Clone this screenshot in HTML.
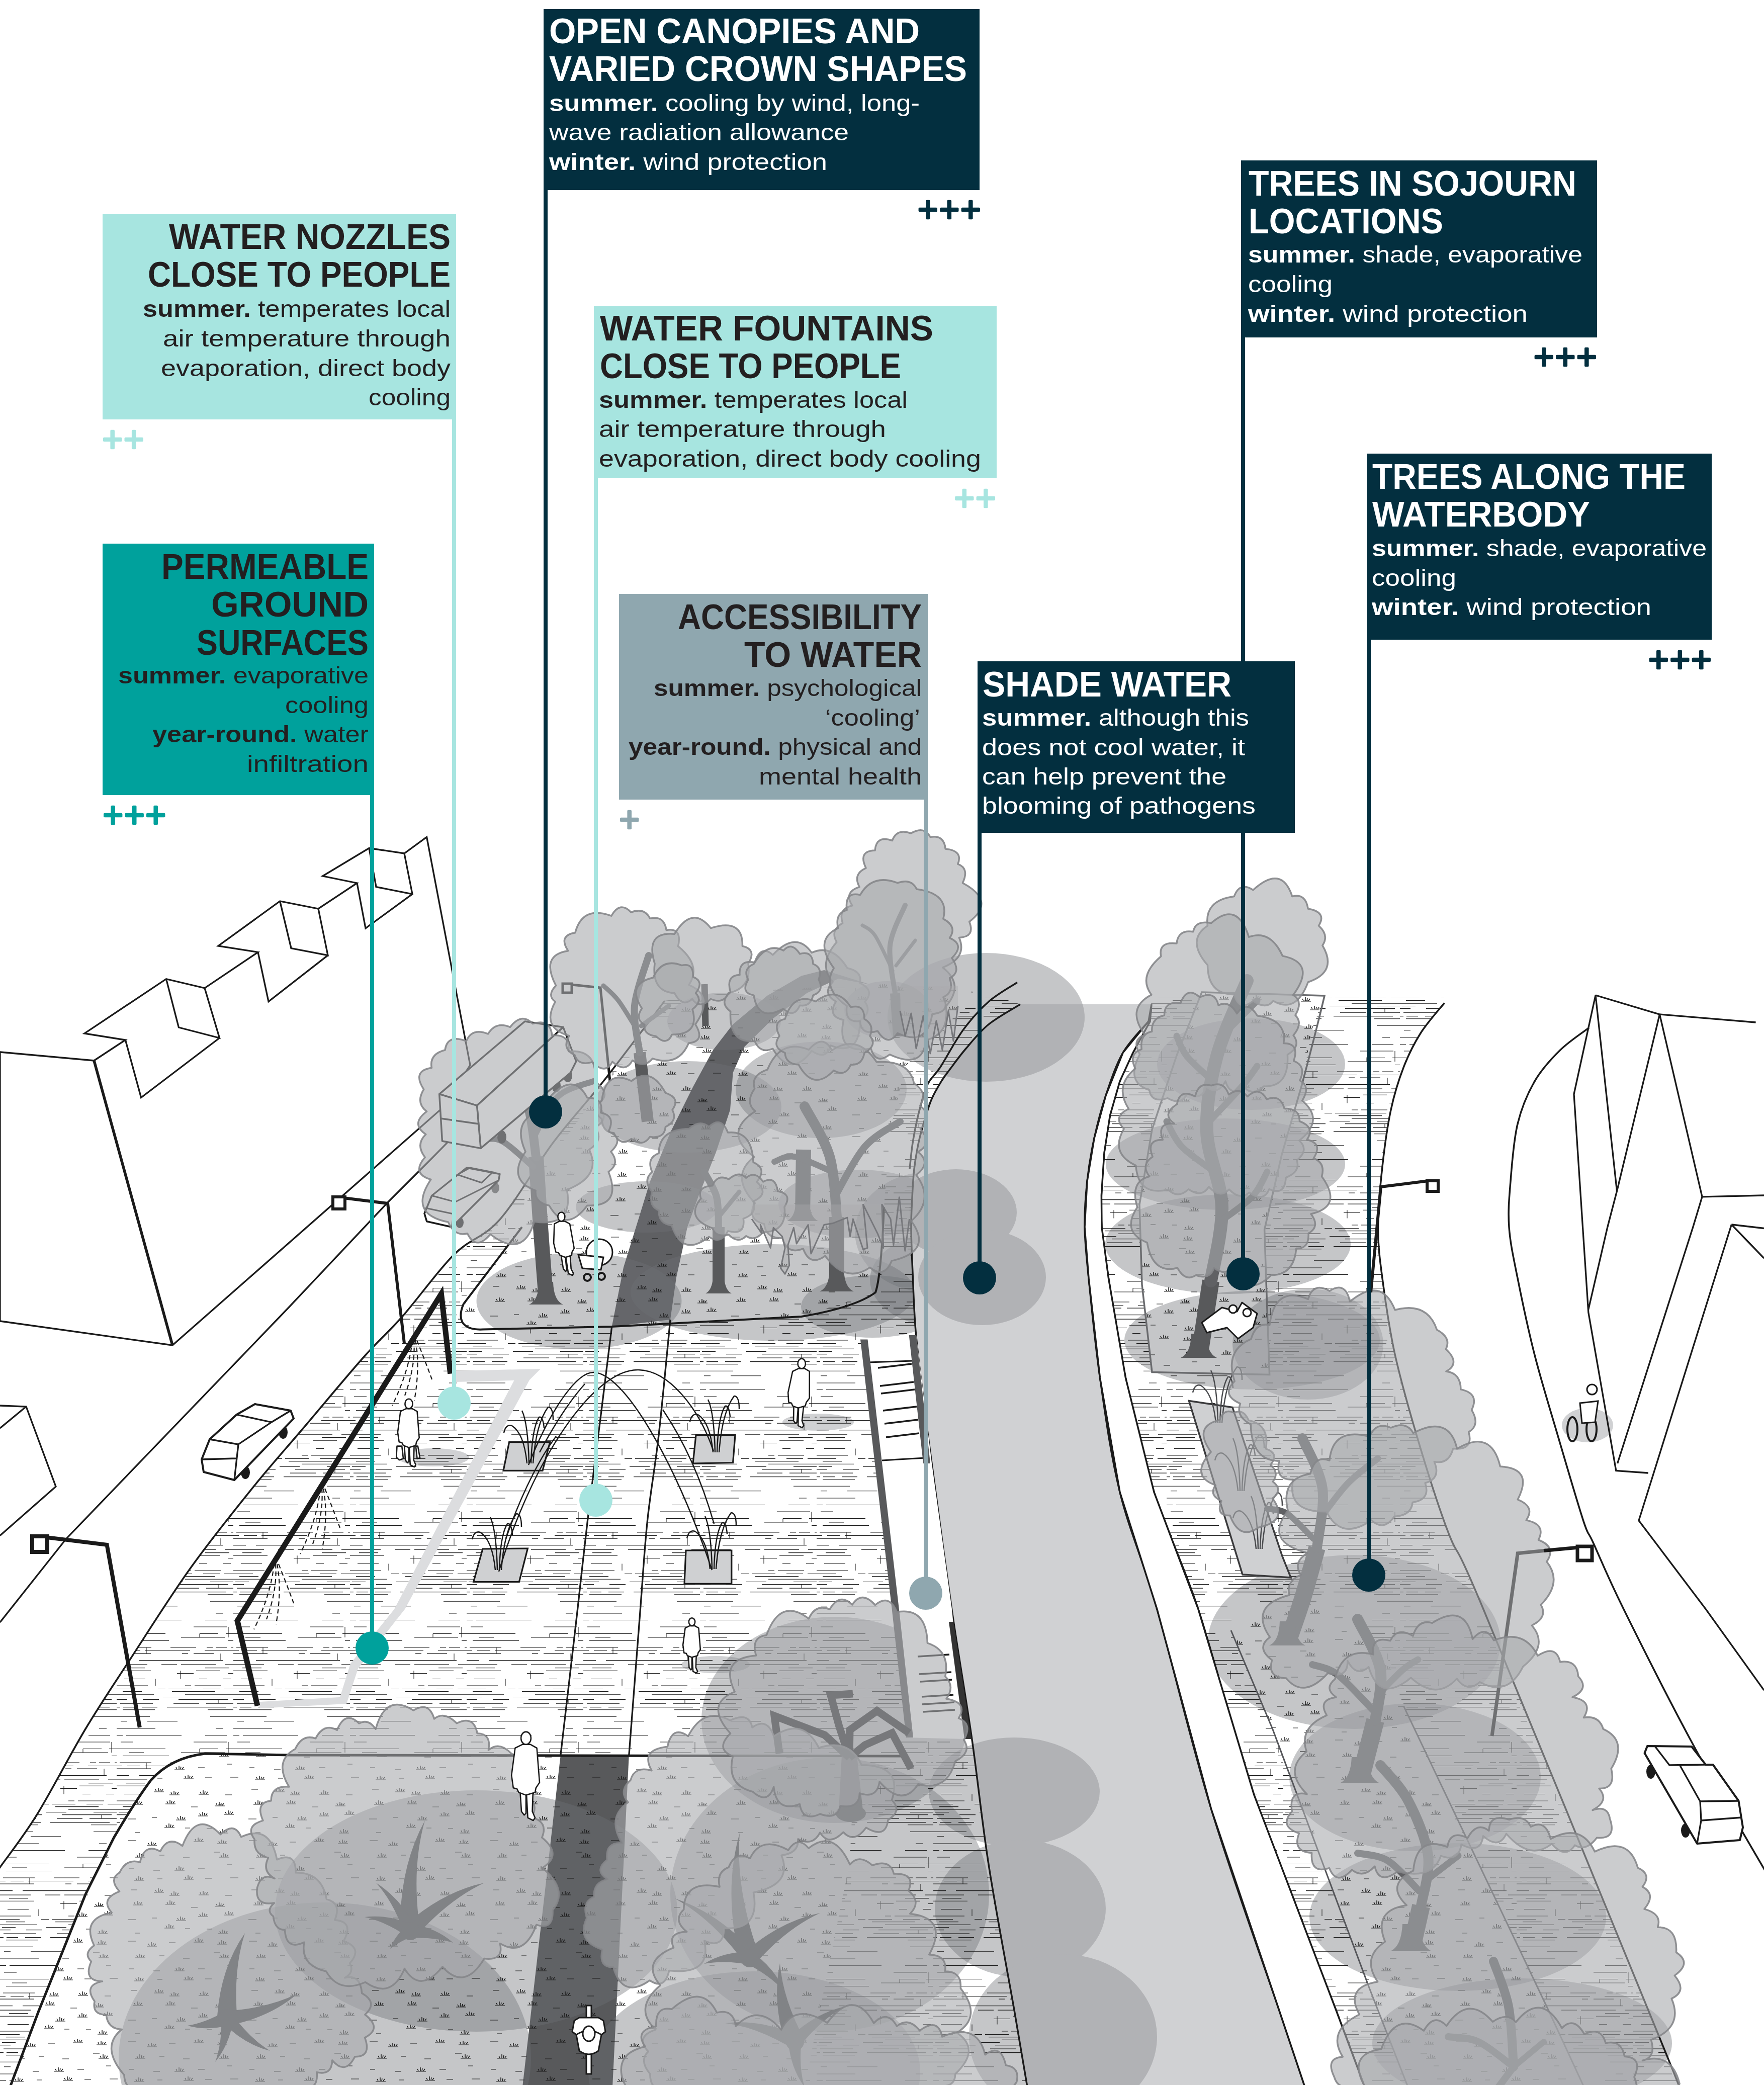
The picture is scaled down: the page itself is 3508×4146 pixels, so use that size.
<!DOCTYPE html>
<html><head><meta charset="utf-8"><title>Climate-responsive design diagram</title>
<style>
html,body{margin:0;padding:0;background:#fff;}
body{width:3508px;height:4146px;overflow:hidden;}
svg{display:block;font-family:"Liberation Sans",sans-serif;}
</style></head><body>
<svg width="3508" height="4146" viewBox="0 0 3508 4146">
<rect width="3508" height="4146" fill="#fff"/>
<g id="illustration">
<defs><pattern id="hatch" width="232" height="229" patternUnits="userSpaceOnUse"><path d="M0 2.0H77M197 2.0H212M0 15.5H12M19 15.5H129M176 15.5H219M8 29.0H33M153 29.0H219M0 42.5H97M165 42.5H202M217 42.5H232M24 50.0H54M128 50.0H215M12 56.5H104M222 56.5H232M6 70.0H69M107 70.0H158M179 70.0H191M197 70.0H219M228 70.0H232M0 76.5H11M21 76.5H47M56 76.5H146M175 76.5H232M0 82.1H68M130 82.1H142M153 82.1H193M0 95.6H25M45 95.6H212M0 104.1H61M89 104.1H120M128 104.1H197M215 104.1H232M18 110.6H56M176 110.6H224M0 116.2H68M158 116.2H206M120 121.4H153M222 121.4H232M15 132.4H57M164 132.4H180M211 132.4H227M0 145.9H62M136 145.9H148M155 145.9H207M0 152.4H39M82 152.4H97M103 152.4H150M172 152.4H205M214 152.4H232M12 157.6H50M110 157.6H196M0 163.2H74M136 163.2H232M4 168.4H31M92 168.4H132M186 168.4H232M0 173.6H21M52 173.6H84M123 173.6H222M7 181.1H72M113 181.1H164M178 181.1H232M0 188.6H7M13 188.6H36M50 188.6H81M100 188.6H218M12 193.8H76M181 193.8H232M0 207.3H66M186 207.3H232M8 216.8H21M61 216.8H121M202 173.6V181.1M127 116.2V132.4M77 132.4V145.9M165 42.5V50.0M59 70.0V82.1M222 29.0V50.0M207 82.1V95.6" stroke="#1a1a1a" stroke-width="1.05" fill="none"/></pattern><pattern id="tuft" width="240" height="200" patternUnits="userSpaceOnUse"><path d="M14 17h16M62 14h10M110 19h20M154 11h20M205 8h20M28 44h10M87 34h20M128 35h10M171 36h10M194 45h20M15 60h16M52 70h20M96 63h13M145 62h20M192 66h20M29 93h20M77 89h10M124 94h13M185 83h13M196 93h20M16 115h10M65 119h13M107 119h20M154 115h13M211 108h10M27 139h20M73 136h10M125 137h20M168 135h13M218 134h16M20 158h13M66 163h20M97 169h20M155 168h20M208 169h13M24 188h20M89 187h20M140 193h13M187 191h20M194 189h10" stroke="#1a1a1a" stroke-width="1.2" fill="none"/><path d="M115 18l-2-4M119 18l0-7M122 18l1-5M125 18l3-4M159 10l-2-4M163 10l0-7M166 10l1-5M169 10l3-4M210 7l-2-4M214 7l0-7M217 7l1-5M220 7l3-4M92 33l-2-4M96 33l0-7M99 33l1-5M102 33l3-4M199 44l-2-4M203 44l0-7M206 44l1-5M209 44l3-4M57 69l-2-4M61 69l0-7M64 69l1-5M67 69l3-4M150 61l-2-4M154 61l0-7M157 61l1-5M160 61l3-4M197 65l-2-4M201 65l0-7M204 65l1-5M207 65l3-4M34 92l-2-4M38 92l0-7M41 92l1-5M44 92l3-4M201 92l-2-4M205 92l0-7M208 92l1-5M211 92l3-4M112 118l-2-4M116 118l0-7M119 118l1-5M122 118l3-4M32 138l-2-4M36 138l0-7M39 138l1-5M42 138l3-4M130 136l-2-4M134 136l0-7M137 136l1-5M140 136l3-4M71 162l-2-4M75 162l0-7M78 162l1-5M81 162l3-4M102 168l-2-4M106 168l0-7M109 168l1-5M112 168l3-4M160 167l-2-4M164 167l0-7M167 167l1-5M170 167l3-4M29 187l-2-4M33 187l0-7M36 187l1-5M39 187l3-4M94 186l-2-4M98 186l0-7M101 186l1-5M104 186l3-4M192 190l-2-4M196 190l0-7M199 190l1-5M202 190l3-4" stroke="#1a1a1a" stroke-width="1.5" fill="none"/></pattern>
<clipPath id="cw"><path d="M2029 1997 L1966 2037 L1921 2085 L1890 2125 L1872.7 2149 L1852.5 2186 L1838 2229.5 L1826.6 2272.7 L1818 2324.5 L1813.7 2387.8 L1812 2445 L1815 2531.7 L1821 2646.8 L1836 2780 L1853 2910 L1892.7 3200 L1932.4 3455 L1966.4 3710 L2017.5 4000 L2043 4150 L2595 4150 L2544.7 4000 L2408.6 3597 L2301 3200 L2227 2967 L2187.5 2740 L2165 2541.7 L2157 2440 L2162 2348.6 L2176 2263.6 L2199 2178.5 L2233 2093.5 L2284 2031 L2290 1997Z"/></clipPath>
<clipPath id="cland"><path d="M-20 3740 L0 3713 L73.7 3608 L170 3438 L258.5 3300 L376.4 3121.5 L498.9 2962.8 L603 2840 L722 2700 L800 2618 L903 2494.6 L994 2425 L1100 2272 L1200 2150 L1322 1990 L1500 1968 L1960 1975 L2029 1997 L1966 2037 L1921 2085 L1890 2125 L1872.7 2149 L1852.5 2186 L1838 2229.5 L1826.6 2272.7 L1818 2324.5 L1813.7 2387.8 L1812 2445 L1815 2531.7 L1821 2646.8 L1836 2780 L1853 2910 L1892.7 3200 L1932.4 3455 L1966.4 3710 L2017.5 4000 L2043 4150 L-20 4150Z M1358 1991 L1196.8 2161.5 L1043.8 2377 L1038 2440 L921.9 2592.7 L916 2621 L941.7 2643.8 L1216 2638 L1593.7 2618 L1741 2570 L1752.4 2513 L1758 2400 L1770 2250 L1800 2120 L1900 2020 L1960 1975 L1800 1955 L1500 1970Z M20 4150 L76.5 4000 L170 3767 L226.8 3653.5 L283.4 3562.8 L317.5 3523 L362.8 3494.8 L408.2 3487 L578.2 3490 L1000 3492 L1700 3492 L1690 3700 L1640 3950 L1600 4150Z M2290 1983 L2872 1983 L2872.5 1994.3 L2825.5 2053.8 L2791.4 2121.9 L2766 2207 L2749 2320 L2740.4 2440 L2749 2541.7 L2774.4 2694.8 L2825.5 2881.9 L2882 3052 L2950 3200 L3279 4000 L3340 4150 L2714 4150 L2658 4000 L2493.7 3568.5 L2383 3200 L2295 2967 L2238.5 2740 L2204.5 2541.7 L2191 2440 L2190.4 2376.5 L2196 2292 L2207.5 2218 L2227 2150 L2253 2093.5 L2287 2031Z M2390 1973 L2634 1980 L2609 2047 L2589 2157 L2549 2296 L2514.6 2445 L2519.6 2594 L2524.6 2733.5 L2291 2728.6 L2271 2554.6 L2266 2395.5 L2291 2246 L2340.6 2097Z M2448 3242 L2520 3205 L2640 3180 L2760 3300 L2791.4 3392.7 L3080.6 4000 L3150 4150 L2800 4150 L2723.4 3954 L2530.7 3438Z" clip-rule="evenodd"/></clipPath>
</defs>
<path d="M1216.7 2638 L1240 2520 L1264.8 2440 L1293 2348.6 L1333 2252 L1378 2161.5 L1418 2088 L1457.6 2036.8 L1525.6 1980 L1593.7 1940.5 L1639 1929 L1729.7 1957.5 L1667.4 1946 L1605 1974.5 L1537 2025.5 L1480 2082 L1457.6 2133 L1452 2207 L1423.6 2292 L1389.6 2377 L1367 2440 L1345 2540 L1333 2624Z" fill="#5f6063"/>
<path d="M1114.6 3492L1250.7 3492L1218 4150L1039 4150Z" fill="#58595b"/>
<g id="shadows">
<ellipse cx="1151.5" cy="2587" rx="204" ry="96" fill="#6e7075" fill-opacity="0.40"/>
<ellipse cx="1537" cy="2570" rx="283" ry="96" fill="#6e7075" fill-opacity="0.40"/>
<ellipse cx="1735" cy="2598" rx="142" ry="62" fill="#6e7075" fill-opacity="0.40"/>
<ellipse cx="1440" cy="2031" rx="113" ry="57" fill="#6e7075" fill-opacity="0.40"/>
<ellipse cx="1367" cy="2201" rx="187" ry="91" fill="#6e7075" fill-opacity="0.40"/>
<ellipse cx="1633" cy="2167" rx="170" ry="96" fill="#6e7075" fill-opacity="0.40"/>
<ellipse cx="1764" cy="2008" rx="85" ry="57" fill="#6e7075" fill-opacity="0.40"/>
<ellipse cx="1707" cy="2394" rx="159" ry="68" fill="#6e7075" fill-opacity="0.40"/>
<ellipse cx="1287" cy="2400" rx="142" ry="51" fill="#6e7075" fill-opacity="0.40"/>
<ellipse cx="1961" cy="2023" rx="196" ry="128" fill="#6e7075" fill-opacity="0.40"/>
<ellipse cx="1850" cy="2450" rx="150" ry="120" fill="#6e7075" fill-opacity="0.40"/>
<ellipse cx="1880" cy="2545" rx="150" ry="95" fill="#6e7075" fill-opacity="0.40"/>
<ellipse cx="2488" cy="2116" rx="187" ry="91" fill="#6e7075" fill-opacity="0.40"/>
<ellipse cx="2437" cy="2315" rx="238" ry="91" fill="#6e7075" fill-opacity="0.40"/>
<ellipse cx="2442" cy="2474" rx="244" ry="99" fill="#6e7075" fill-opacity="0.40"/>
<ellipse cx="2490" cy="2665" rx="254" ry="98" fill="#6e7075" fill-opacity="0.40"/>
<ellipse cx="2693" cy="3265" rx="291" ry="173" fill="#6e7075" fill-opacity="0.40"/>
<ellipse cx="2601" cy="2673" rx="150" ry="110" fill="#6e7075" fill-opacity="0.40"/>
<ellipse cx="2814" cy="3534" rx="250" ry="147" fill="#6e7075" fill-opacity="0.40"/>
<ellipse cx="2899" cy="3812" rx="295" ry="147" fill="#6e7075" fill-opacity="0.40"/>
<ellipse cx="3027" cy="4063" rx="298" ry="129" fill="#6e7075" fill-opacity="0.40"/>
<ellipse cx="947" cy="3800" rx="400" ry="240" fill="#6e7075" fill-opacity="0.40"/>
<ellipse cx="646" cy="4093" rx="410" ry="310" fill="#6e7075" fill-opacity="0.40"/>
<ellipse cx="1650" cy="3767" rx="317" ry="272" fill="#6e7075" fill-opacity="0.40"/>
<ellipse cx="1500" cy="4120" rx="330" ry="200" fill="#6e7075" fill-opacity="0.40"/>
<ellipse cx="2017" cy="3563" rx="170" ry="108" fill="#6e7075" fill-opacity="0.40"/>
<ellipse cx="2029" cy="3795" rx="170" ry="136" fill="#6e7075" fill-opacity="0.40"/>
<ellipse cx="2114" cy="4050" rx="187" ry="164" fill="#6e7075" fill-opacity="0.40"/>
<ellipse cx="1660" cy="3420" rx="265" ry="205" fill="#6e7075" fill-opacity="0.40"/>
<ellipse cx="862" cy="2898" rx="71" ry="18" fill="#6e7075" fill-opacity="0.32"/>
<ellipse cx="1627" cy="2828" rx="71" ry="17" fill="#6e7075" fill-opacity="0.32"/>
<ellipse cx="1423" cy="3310" rx="68" ry="17" fill="#6e7075" fill-opacity="0.32"/>
<ellipse cx="3157" cy="2834" rx="51" ry="34" fill="#6e7075" fill-opacity="0.32"/>
</g>
<path d="M-20 3740 L0 3713 L73.7 3608 L170 3438 L258.5 3300 L376.4 3121.5 L498.9 2962.8 L603 2840 L722 2700 L800 2618 L903 2494.6 L994 2425 L1100 2272 L1200 2150 L1322 1990 L1500 1968 L1960 1975 L2029 1997 L1966 2037 L1921 2085 L1890 2125 L1872.7 2149 L1852.5 2186 L1838 2229.5 L1826.6 2272.7 L1818 2324.5 L1813.7 2387.8 L1812 2445 L1815 2531.7 L1821 2646.8 L1836 2780 L1853 2910 L1892.7 3200 L1932.4 3455 L1966.4 3710 L2017.5 4000 L2043 4150 L-20 4150Z M1358 1991 L1196.8 2161.5 L1043.8 2377 L1038 2440 L921.9 2592.7 L916 2621 L941.7 2643.8 L1216 2638 L1593.7 2618 L1741 2570 L1752.4 2513 L1758 2400 L1770 2250 L1800 2120 L1900 2020 L1960 1975 L1800 1955 L1500 1970Z M20 4150 L76.5 4000 L170 3767 L226.8 3653.5 L283.4 3562.8 L317.5 3523 L362.8 3494.8 L408.2 3487 L578.2 3490 L1000 3492 L1700 3492 L1690 3700 L1640 3950 L1600 4150Z" fill="url(#hatch)" fill-rule="evenodd"/>
<path d="M2290 1983 L2872 1983 L2872.5 1994.3 L2825.5 2053.8 L2791.4 2121.9 L2766 2207 L2749 2320 L2740.4 2440 L2749 2541.7 L2774.4 2694.8 L2825.5 2881.9 L2882 3052 L2950 3200 L3279 4000 L3340 4150 L2714 4150 L2658 4000 L2493.7 3568.5 L2383 3200 L2295 2967 L2238.5 2740 L2204.5 2541.7 L2191 2440 L2190.4 2376.5 L2196 2292 L2207.5 2218 L2227 2150 L2253 2093.5 L2287 2031Z M2390 1973 L2634 1980 L2609 2047 L2589 2157 L2549 2296 L2514.6 2445 L2519.6 2594 L2524.6 2733.5 L2291 2728.6 L2271 2554.6 L2266 2395.5 L2291 2246 L2340.6 2097Z M2448 3242 L2520 3205 L2640 3180 L2760 3300 L2791.4 3392.7 L3080.6 4000 L3150 4150 L2800 4150 L2723.4 3954 L2530.7 3438Z" fill="url(#hatch)" fill-rule="evenodd"/>
<path d="M1358 1991 L1196.8 2161.5 L1043.8 2377 L1038 2440 L921.9 2592.7 L916 2621 L941.7 2643.8 L1216 2638 L1593.7 2618 L1741 2570 L1752.4 2513 L1758 2400 L1770 2250 L1800 2120 L1900 2020 L1960 1975 L1800 1955 L1500 1970Z" fill="url(#tuft)"/>
<path d="M20 4150 L76.5 4000 L170 3767 L226.8 3653.5 L283.4 3562.8 L317.5 3523 L362.8 3494.8 L408.2 3487 L578.2 3490 L1000 3492 L1700 3492 L1690 3700 L1640 3950 L1600 4150Z" fill="url(#tuft)"/>
<path d="M2390 1973 L2634 1980 L2609 2047 L2589 2157 L2549 2296 L2514.6 2445 L2519.6 2594 L2524.6 2733.5 L2291 2728.6 L2271 2554.6 L2266 2395.5 L2291 2246 L2340.6 2097Z" fill="url(#tuft)"/>
<path d="M2448 3242 L2520 3205 L2640 3180 L2760 3300 L2791.4 3392.7 L3080.6 4000 L3150 4150 L2800 4150 L2723.4 3954 L2530.7 3438Z" fill="url(#tuft)"/>
<path d="M1023 2744L1053 2744L805 3200L712 3318L689 3388L516 3397L516 3384L676 3375L697 3308L784 3200Z" fill="#dcdddf"/>
<path d="M905 2726L1075 2722L1053 2744L905 2748Z" fill="#dcdddf"/>
<path d="M2029 1997 L1966 2037 L1921 2085 L1890 2125 L1872.7 2149 L1852.5 2186 L1838 2229.5 L1826.6 2272.7 L1818 2324.5 L1813.7 2387.8 L1812 2445 L1815 2531.7 L1821 2646.8 L1836 2780 L1853 2910 L1892.7 3200 L1932.4 3455 L1966.4 3710 L2017.5 4000 L2043 4150 L2595 4150 L2544.7 4000 L2408.6 3597 L2301 3200 L2227 2967 L2187.5 2740 L2165 2541.7 L2157 2440 L2162 2348.6 L2176 2263.6 L2199 2178.5 L2233 2093.5 L2284 2031 L2290 1997Z" fill="#d0d1d3"/>
<g clip-path="url(#cw)" fill="#b1b2b5">
<ellipse cx="1961" cy="2023" rx="196" ry="128"/>
<ellipse cx="1901" cy="2411" rx="121" ry="86"/>
<ellipse cx="1953" cy="2540" rx="127" ry="95"/>
<ellipse cx="2017" cy="3563" rx="170" ry="108"/>
<ellipse cx="2029" cy="3795" rx="170" ry="136"/>
<ellipse cx="2114" cy="4050" rx="187" ry="164"/>
</g>
<path d="M2029 1997 C2018.5 2003.7 1984.0 2022.3 1966 2037 C1948.0 2051.7 1933.7 2070.3 1921 2085 C1908.3 2099.7 1898.0 2114.3 1890 2125 C1882.0 2135.7 1879.0 2138.8 1872.7 2149 C1866.5 2159.2 1858.3 2172.6 1852.5 2186 C1846.7 2199.4 1842.3 2215.1 1838 2229.5 C1833.7 2243.9 1829.9 2256.9 1826.6 2272.7 C1823.3 2288.5 1820.2 2305.3 1818 2324.5 C1815.8 2343.7 1814.7 2367.7 1813.7 2387.8 C1812.7 2407.9 1811.8 2421.0 1812 2445 C1812.2 2469.0 1813.5 2498.1 1815 2531.7 C1816.5 2565.3 1817.5 2605.4 1821 2646.8 C1824.5 2688.2 1830.7 2736.1 1836 2780 C1841.3 2823.9 1843.5 2840.0 1853 2910 C1862.5 2980.0 1879.5 3109.2 1892.7 3200 C1905.9 3290.8 1920.1 3370.0 1932.4 3455 C1944.7 3540.0 1952.2 3619.2 1966.4 3710 C1980.6 3800.8 2004.7 3926.7 2017.5 4000 C2030.3 4073.3 2038.8 4125.0 2043 4150" fill="none" stroke="#1a1a1a" stroke-width="3.5"/>
<path d="M2284 2031 C2275.5 2041.4 2247.2 2068.9 2233 2093.5 C2218.8 2118.1 2208.5 2150.2 2199 2178.5 C2189.5 2206.8 2182.2 2235.2 2176 2263.6 C2169.8 2291.9 2165.2 2319.2 2162 2348.6 C2158.8 2378.0 2156.5 2407.8 2157 2440 C2157.5 2472.2 2159.9 2491.7 2165 2541.7 C2170.1 2591.7 2177.2 2669.1 2187.5 2740 C2197.8 2810.9 2208.1 2890.3 2227 2967 C2245.9 3043.7 2270.7 3095.0 2301 3200 C2331.3 3305.0 2368.0 3463.7 2408.6 3597 C2449.2 3730.3 2513.6 3907.8 2544.7 4000 C2575.8 4092.2 2586.6 4125.0 2595 4150" fill="none" stroke="#1a1a1a" stroke-width="3.5"/>
<path d="M2287 2031 C2281.3 2041.4 2263.0 2073.7 2253 2093.5 C2243.0 2113.3 2234.6 2129.2 2227 2150 C2219.4 2170.8 2212.7 2194.3 2207.5 2218 C2202.3 2241.7 2198.8 2265.6 2196 2292 C2193.2 2318.4 2191.2 2351.8 2190.4 2376.5 C2189.6 2401.2 2188.7 2412.5 2191 2440 C2193.3 2467.5 2196.6 2491.7 2204.5 2541.7 C2212.4 2591.7 2223.4 2669.1 2238.5 2740 C2253.6 2810.9 2270.9 2890.3 2295 2967 C2319.1 3043.7 2349.9 3099.8 2383 3200 C2416.1 3300.2 2447.9 3435.2 2493.7 3568.5 C2539.5 3701.8 2621.3 3903.1 2658 4000 C2694.7 4096.9 2704.7 4125.0 2714 4150" fill="none" stroke="#1a1a1a" stroke-width="3.5"/>
<path d="M2023 1953.5 C2013.6 1959.8 1984.3 1975.8 1966.4 1991.5 C1948.5 2007.2 1931.5 2026.2 1915.4 2048 C1899.3 2069.8 1881.9 2103.8 1870 2122 C1858.1 2140.2 1851.2 2142.0 1844 2157.5 C1836.8 2173.0 1831.4 2195.8 1826.6 2215 C1821.8 2234.2 1817.9 2254.4 1815 2272.7 C1812.1 2290.9 1810.0 2315.9 1809 2324.5" fill="none" stroke="#1a1a1a" stroke-width="3.5"/>
<path d="M-20 3740 C-16.7 3735.5 -15.6 3735.0 0 3713 C15.6 3691.0 45.4 3653.8 73.7 3608 C102.0 3562.2 139.2 3489.3 170 3438 C200.8 3386.7 224.1 3352.8 258.5 3300 C292.9 3247.2 336.3 3177.7 376.4 3121.5 C416.5 3065.3 461.1 3009.7 498.9 2962.8 C536.7 2915.9 565.8 2883.8 603 2840 C640.2 2796.2 689.2 2737.0 722 2700 C754.8 2663.0 769.8 2652.2 800 2618 C830.2 2583.8 870.7 2526.8 903 2494.6 C935.3 2462.4 961.2 2462.1 994 2425 C1026.8 2387.9 1065.7 2317.8 1100 2272 C1134.3 2226.2 1163.0 2197.0 1200 2150 C1237.0 2103.0 1301.7 2016.7 1322 1990" fill="none" stroke="#1a1a1a" stroke-width="3.5"/>
<path d="M2872.5 1994.3 C2864.7 2004.2 2839.0 2032.5 2825.5 2053.8 C2812.0 2075.1 2801.3 2096.4 2791.4 2121.9 C2781.5 2147.4 2773.1 2174.0 2766 2207 C2758.9 2240.0 2753.3 2281.2 2749 2320 C2744.7 2358.8 2740.4 2403.1 2740.4 2440 C2740.4 2476.9 2743.3 2499.2 2749 2541.7 C2754.7 2584.2 2761.7 2638.1 2774.4 2694.8 C2787.2 2751.5 2807.6 2822.4 2825.5 2881.9 C2843.4 2941.4 2861.2 2999.0 2882 3052 C2902.8 3105.0 2883.8 3042.0 2950 3200 C3016.2 3358.0 3214.0 3841.7 3279 4000 C3344.0 4158.3 3329.8 4125.0 3340 4150" fill="none" stroke="#1a1a1a" stroke-width="3.5"/>
<path d="M3160 2043.6 C3150.5 2051.0 3121.0 2070.1 3103 2087.8 C3085.0 2105.5 3066.2 2125.5 3052 2150 C3037.8 2174.5 3026.0 2201.9 3018 2235 C3010.0 2268.1 3006.8 2314.4 3004 2348.6 C3001.2 2382.8 2998.7 2407.8 3001 2440 C3003.3 2472.2 3009.5 2499.2 3018 2541.7 C3026.5 2584.2 3038.7 2642.8 3052 2694.8 C3065.3 2746.8 3081.5 2798.7 3097.6 2853.5 C3113.7 2908.3 3136.8 2987.8 3148.6 3023.6 C3160.4 3059.3 3155.1 3038.6 3168.5 3068 C3181.9 3097.4 3195.8 3132.8 3229 3200 C3262.2 3267.2 3321.5 3385.0 3368 3471 C3414.5 3557.0 3479.3 3667.0 3508 3716 C3536.7 3765.0 3534.7 3756.8 3540 3765" fill="none" stroke="#1a1a1a" stroke-width="3.5"/><path d="M2290 1997 L2284 2031 L2233 2093.5 L2199 2178.5 L2176 2263.6 L2162 2348.6 L2157 2440 L2165 2541.7 L2187.5 2740 L2227 2967 L2301 3200 L2408.6 3597 L2544.7 4000 L2595 4150 L2714 4150 L2658 4000 L2493.7 3568.5 L2383 3200 L2295 2967 L2238.5 2740 L2204.5 2541.7 L2191 2440 L2190.4 2376.5 L2196 2292 L2207.5 2218 L2227 2150 L2253 2093.5 L2287 2031Z" fill="#fff" stroke="#1a1a1a" stroke-width="3.5"/>
<path d="M1725 2664L1808 2655L1822 2655L1853 2910L1893 3200L1918 3458L1802 3455L1785 3200Z" fill="#fff"/>
<path d="M1746 2720L1813 2712" stroke="#1a1a1a" stroke-width="3.5"/>
<path d="M1750 2756L1817 2748" stroke="#1a1a1a" stroke-width="3.5"/>
<path d="M1752 2771L1819 2763" stroke="#1a1a1a" stroke-width="3.5"/>
<path d="M1756 2805L1823 2797" stroke="#1a1a1a" stroke-width="3.5"/>
<path d="M1759 2831L1826 2823" stroke="#1a1a1a" stroke-width="3.5"/>
<path d="M1762 2858L1828 2850" stroke="#1a1a1a" stroke-width="3.5"/>
<path d="M1726 2709L1816 2706M1754 2904L1840 2899" stroke="#1a1a1a" stroke-width="3" fill="none"/>
<path d="M1825 3294L1888 3290" stroke="#1a1a1a" stroke-width="3.5"/>
<path d="M1828 3329L1892 3325" stroke="#1a1a1a" stroke-width="3.5"/>
<path d="M1830 3344L1893 3340" stroke="#1a1a1a" stroke-width="3.5"/>
<path d="M1833 3374L1896 3370" stroke="#1a1a1a" stroke-width="3.5"/>
<path d="M1834 3389L1898 3385" stroke="#1a1a1a" stroke-width="3.5"/>
<path d="M1836 3404L1899 3400" stroke="#1a1a1a" stroke-width="3.5"/>
<path d="M1711 2663.6L1725.5 2663.6L1787.9 3200L1816 3455L1802 3455L1773.7 3200Z" fill="#58595b"/>
<path d="M1807.7 2655L1822 2655L1850 2910L1836 2910Z" fill="#58595b"/>
<path d="M1887 3225L1896 3225L1932 3458L1918 3458Z" fill="#333"/>
<path d="M1216.7 2638 C1213.4 2664.5 1205.0 2732.7 1197 2797 C1189.0 2861.3 1176.6 2956.4 1168.5 3023.6 C1160.4 3090.8 1157.6 3121.9 1148.6 3200 C1139.6 3278.1 1120.3 3443.3 1114.6 3492" fill="none" stroke="#1a1a1a" stroke-width="3.3"/>
<path d="M1333 2624 C1329.2 2662.2 1317.6 2786.9 1310 2853.5 C1302.4 2920.1 1293.6 2965.8 1287.5 3023.6 C1281.4 3081.3 1279.5 3121.9 1273.4 3200 C1267.3 3278.1 1254.5 3443.3 1250.7 3492" fill="none" stroke="#1a1a1a" stroke-width="3.3"/>
<path d="M1038 2440L921.9 2592.7Q912 2615 920 2630Q930 2645 960 2643.5L1216 2638L1593.7 2618Q1700 2600 1741 2570Q1752 2540 1758 2400" fill="none" stroke="#1a1a1a" stroke-width="4"/>
<path d="M20 4150L76.5 4000L170 3767L226.8 3653.5Q270 3580 300 3540Q340 3495 408 3487L578 3490L1800 3492" fill="none" stroke="#1a1a1a" stroke-width="5"/>
<path d="M2390 1973L2634 1980Q2620 2040 2589 2157L2549 2296L2514.6 2445L2519.6 2594L2524.6 2733.5L2291 2728.6L2271 2554.6L2266 2395.5L2291 2246L2340.6 2097Z" fill="none" stroke="#6a6b6e" stroke-width="3.5"/>
<path d="M2448 3242L2530.7 3438L2723.4 3954L2800 4150M2791.4 3392.7L3080.6 4000L3150 4150" fill="none" stroke="#55565a" stroke-width="3"/>
<path d="M1012.6 2867.7L1093.7 2867.7L1079 2924.4L1001 2924.4Z" fill="#cfd0d2" stroke="#1a1a1a" stroke-width="3.2"/>
<path d="M1384 2853.5L1462 2853.5L1457.6 2908.5L1378 2910Z" fill="#cfd0d2" stroke="#1a1a1a" stroke-width="3.2"/>
<path d="M959.9 3080L1049.4 3079L1032.4 3145.5L941.7 3145.5Z" fill="#cfd0d2" stroke="#1a1a1a" stroke-width="3.2"/>
<path d="M1364 3083L1454.8 3083L1454.8 3149.4L1361 3149.4Z" fill="#cfd0d2" stroke="#1a1a1a" stroke-width="3.2"/>
<path d="M2364.4 2785.5L2451 2798.5L2550 3094.5L2567 3137L2471 3131Z" fill="#cfd0d2" stroke="#3a3a3c" stroke-width="3.5"/>
<path d="M1051 2913C1100 2790 1150 2729 1180 2729C1240 2729 1340 2900 1416 3122M1073 2888Q1120 2800 1163 2752M1318 2803C1370 2880 1400 2960 1420 3030M992 3125C1060 2900 1180 2724 1268 2724C1330 2724 1390 2800 1419 2886M1006 3060C1040 2960 1080 2890 1106 2856" fill="none" stroke="#1a1a1a" stroke-width="2.5"/>
<path d="M1048 2910q-6 -60 -30 -75q-12 -4 -16 14M1052 2910q-2 -80 -14 -105M1056 2910q2 -70 16 -92q8 -2 10 22M1060 2910q6 -80 30 -112q10 0 10 26" fill="none" stroke="#1a1a1a" stroke-width="2.5"/>
<path d="M1418 2888q-6 -60 -30 -75q-12 -4 -16 14M1422 2888q-2 -80 -14 -105M1426 2888q2 -70 16 -92q8 -2 10 22M1430 2888q6 -80 30 -112q10 0 10 26" fill="none" stroke="#1a1a1a" stroke-width="2.5"/>
<path d="M985 3122q-6 -60 -30 -75q-12 -4 -16 14M989 3122q-2 -80 -14 -105M993 3122q2 -70 16 -92q8 -2 10 22M997 3122q6 -80 30 -112q10 0 10 26" fill="none" stroke="#1a1a1a" stroke-width="2.5"/>
<path d="M1412 3120q-6 -60 -30 -75q-12 -4 -16 14M1416 3120q-2 -80 -14 -105M1420 3120q2 -70 16 -92q8 -2 10 22M1424 3120q6 -80 30 -112q10 0 10 26" fill="none" stroke="#1a1a1a" stroke-width="2.5"/>
<path d="M2418 2830q-6 -60 -30 -75q-12 -4 -16 14M2422 2830q-2 -80 -14 -105M2426 2830q2 -70 16 -92q8 -2 10 22M2430 2830q6 -80 30 -112q10 0 10 26" fill="none" stroke="#4a4b4e" stroke-width="2.5"/>
<path d="M2462 2965q-6 -60 -30 -75q-12 -4 -16 14M2466 2965q-2 -80 -14 -105M2470 2965q2 -70 16 -92q8 -2 10 22M2474 2965q6 -80 30 -112q10 0 10 26" fill="none" stroke="#4a4b4e" stroke-width="2.5"/>
<path d="M2498 3080q-6 -60 -30 -75q-12 -4 -16 14M2502 3080q-2 -80 -14 -105M2506 3080q2 -70 16 -92q8 -2 10 22M2510 3080q6 -80 30 -112q10 0 10 26" fill="none" stroke="#4a4b4e" stroke-width="2.5"/>
<path d="M1066 2300 C1067.5 2323.3 1071.7 2392.5 1075 2440 C1078.3 2487.5 1084.2 2560.8 1086 2585" fill="none" stroke="#58595b" stroke-width="30" stroke-linecap="butt" stroke-linejoin="round"/>
<path d="M1072 2549Q1071 2586 1052 2594L1120 2594Q1101 2586 1100 2549Z" fill="#58595b"/>
<path d="M1429 2440 L1429 2565" fill="none" stroke="#58595b" stroke-width="24" stroke-linecap="butt" stroke-linejoin="round"/>
<path d="M1418 2537Q1417 2565 1403 2572L1455 2572Q1441 2565 1440 2537Z" fill="#58595b"/>
<path d="M1664 2420 L1664 2560" fill="none" stroke="#58595b" stroke-width="30" stroke-linecap="butt" stroke-linejoin="round"/>
<path d="M1650 2523Q1649 2560 1630 2568L1698 2568Q1679 2560 1678 2523Z" fill="#58595b"/>
<path d="M1272 2093 L1288 2230" fill="none" stroke="#58595b" stroke-width="24" stroke-linecap="butt" stroke-linejoin="round"/>
<path d="M1598 2286 L1596 2420" fill="none" stroke="#606164" stroke-width="30" stroke-linecap="butt" stroke-linejoin="round"/>
<path d="M1583 2386Q1582 2420 1565 2428L1627 2428Q1610 2420 1609 2386Z" fill="#606164"/>
<path d="M1401 1957 L1403 2040" fill="none" stroke="#58595b" stroke-width="13" stroke-linecap="butt" stroke-linejoin="round"/>
<path d="M1780 1975 L1786 2060" fill="none" stroke="#58595b" stroke-width="20" stroke-linecap="butt" stroke-linejoin="round"/>
<path d="M1066 2300 C1063.3 2283.3 1059.3 2230.0 1050 2200 C1040.7 2170.0 1016.7 2133.3 1010 2120" fill="none" stroke="#606164" stroke-width="18" stroke-linecap="round" stroke-linejoin="round"/>
<path d="M1062 2260 C1070.0 2246.7 1090.3 2198.3 1110 2180 C1129.7 2161.7 1168.3 2155.0 1180 2150" fill="none" stroke="#606164" stroke-width="12" stroke-linecap="round" stroke-linejoin="round"/>
<path d="M1060 2320 C1050.0 2311.7 1016.7 2279.2 1000 2270 C983.3 2260.8 966.7 2265.8 960 2265" fill="none" stroke="#606164" stroke-width="12" stroke-linecap="round" stroke-linejoin="round"/>
<path d="M1272 2093 C1270.3 2077.5 1259.0 2032.2 1262 2000 C1265.0 1967.8 1285.3 1916.7 1290 1900" fill="none" stroke="#606164" stroke-width="14" stroke-linecap="round" stroke-linejoin="round"/>
<path d="M1268 2050 C1261.7 2040.0 1241.3 2005.0 1230 1990 C1218.7 1975.0 1205.0 1965.0 1200 1960" fill="none" stroke="#606164" stroke-width="9" stroke-linecap="round" stroke-linejoin="round"/>
<path d="M1275 2040 L1330 2000" fill="none" stroke="#606164" stroke-width="9" stroke-linecap="round" stroke-linejoin="round"/>
<path d="M1664 2420 C1661.7 2400.0 1660.7 2336.7 1650 2300 C1639.3 2263.3 1608.3 2216.7 1600 2200" fill="none" stroke="#606164" stroke-width="20" stroke-linecap="round" stroke-linejoin="round"/>
<path d="M1660 2380 C1670.0 2363.3 1698.3 2305.0 1720 2280 C1741.7 2255.0 1778.3 2238.3 1790 2230" fill="none" stroke="#606164" stroke-width="14" stroke-linecap="round" stroke-linejoin="round"/>
<path d="M1655 2330 C1642.5 2325.0 1599.2 2303.3 1580 2300 C1560.8 2296.7 1546.7 2308.3 1540 2310" fill="none" stroke="#606164" stroke-width="12" stroke-linecap="round" stroke-linejoin="round"/>
<path d="M1780 1975 C1778.3 1959.2 1766.7 1909.2 1770 1880 C1773.3 1850.8 1795.0 1813.3 1800 1800" fill="none" stroke="#606164" stroke-width="10" stroke-linecap="round" stroke-linejoin="round"/>
<path d="M1775 1930 C1769.2 1918.3 1750.0 1875.0 1740 1860 C1730.0 1845.0 1719.2 1843.3 1715 1840" fill="none" stroke="#606164" stroke-width="7" stroke-linecap="round" stroke-linejoin="round"/>
<path d="M1782 1920 L1820 1870" fill="none" stroke="#606164" stroke-width="7" stroke-linecap="round" stroke-linejoin="round"/>
<path d="M1429 2440 C1428.3 2430.0 1429.8 2398.3 1425 2380 C1420.2 2361.7 1404.2 2338.3 1400 2330" fill="none" stroke="#606164" stroke-width="14" stroke-linecap="round" stroke-linejoin="round"/>
<path d="M1429 2420 L1470 2370" fill="none" stroke="#606164" stroke-width="9" stroke-linecap="round" stroke-linejoin="round"/>
<path d="M2408 2547 L2386 2690" fill="none" stroke="#58595b" stroke-width="34" stroke-linecap="butt" stroke-linejoin="round"/>
<path d="M2369 2652Q2368 2691 2348 2700L2420 2700Q2400 2691 2399 2652Z" fill="#58595b"/>
<path d="M2408 2547 C2411.7 2522.5 2431.3 2449.5 2430 2400 C2428.7 2350.5 2401.7 2300.0 2400 2250 C2398.3 2200.0 2406.7 2150.0 2420 2100 C2433.3 2050.0 2470.0 1975.0 2480 1950" fill="none" stroke="#606164" stroke-width="26" stroke-linecap="round" stroke-linejoin="round"/>
<path d="M2425 2430 C2435.8 2421.7 2474.2 2396.7 2490 2380 C2505.8 2363.3 2515.0 2338.3 2520 2330" fill="none" stroke="#606164" stroke-width="13" stroke-linecap="round" stroke-linejoin="round"/>
<path d="M2415 2330 C2404.2 2321.7 2365.8 2296.7 2350 2280 C2334.2 2263.3 2325.0 2238.3 2320 2230" fill="none" stroke="#606164" stroke-width="13" stroke-linecap="round" stroke-linejoin="round"/>
<path d="M2405 2230 C2415.8 2218.3 2454.2 2178.3 2470 2160 C2485.8 2141.7 2495.0 2126.7 2500 2120" fill="none" stroke="#606164" stroke-width="13" stroke-linecap="round" stroke-linejoin="round"/>
<path d="M2412 2150 C2403.3 2141.7 2372.0 2115.0 2360 2100 C2348.0 2085.0 2343.3 2066.7 2340 2060" fill="none" stroke="#606164" stroke-width="13" stroke-linecap="round" stroke-linejoin="round"/>
<path d="M2440 2050 L2500 1990" fill="none" stroke="#606164" stroke-width="13" stroke-linecap="round" stroke-linejoin="round"/>
<path d="M2619 3078 C2614.2 3095.0 2599.5 3149.3 2590 3180 C2580.5 3210.7 2566.7 3248.3 2562 3262" fill="none" stroke="#606164" stroke-width="34" stroke-linecap="butt" stroke-linejoin="round"/>
<path d="M2545 3224Q2544 3263 2524 3272L2596 3272Q2576 3263 2575 3224Z" fill="#606164"/>
<path d="M2735 3421 L2706 3535" fill="none" stroke="#606164" stroke-width="36" stroke-linecap="butt" stroke-linejoin="round"/>
<path d="M2688 3494Q2686 3535 2666 3545L2742 3545Q2722 3535 2720 3494Z" fill="#606164"/>
<path d="M2826 3790 L2808 3870" fill="none" stroke="#606164" stroke-width="36" stroke-linecap="butt" stroke-linejoin="round"/>
<path d="M2789 3826Q2787 3870 2765 3880L2847 3880Q2825 3870 2823 3826Z" fill="#606164"/>
<path d="M2619 3078 C2620.8 3058.3 2634.8 2996.3 2630 2960 C2625.2 2923.7 2596.7 2876.7 2590 2860" fill="none" stroke="#606164" stroke-width="20" stroke-linecap="round" stroke-linejoin="round"/>
<path d="M2625 3020 C2634.2 3008.3 2660.8 2970.0 2680 2950 C2699.2 2930.0 2730.0 2908.3 2740 2900" fill="none" stroke="#606164" stroke-width="13" stroke-linecap="round" stroke-linejoin="round"/>
<path d="M2612 3060 C2603.3 3051.7 2575.3 3020.0 2560 3010 C2544.7 3000.0 2526.7 3001.7 2520 3000" fill="none" stroke="#606164" stroke-width="12" stroke-linecap="round" stroke-linejoin="round"/>
<path d="M2735 3421 C2736.7 3404.2 2750.8 3353.5 2745 3320 C2739.2 3286.5 2707.5 3236.7 2700 3220" fill="none" stroke="#606164" stroke-width="22" stroke-linecap="round" stroke-linejoin="round"/>
<path d="M2740 3370 C2748.3 3361.7 2776.7 3331.7 2790 3320 C2803.3 3308.3 2815.0 3303.3 2820 3300" fill="none" stroke="#606164" stroke-width="13" stroke-linecap="round" stroke-linejoin="round"/>
<path d="M2730 3400 C2718.3 3388.3 2680.0 3345.0 2660 3330 C2640.0 3315.0 2618.3 3313.3 2610 3310" fill="none" stroke="#606164" stroke-width="14" stroke-linecap="round" stroke-linejoin="round"/>
<path d="M2826 3790 C2828.3 3773.3 2844.3 3725.0 2840 3690 C2835.7 3655.0 2815.8 3610.0 2800 3580 C2784.2 3550.0 2754.2 3521.7 2745 3510" fill="none" stroke="#606164" stroke-width="20" stroke-linecap="round" stroke-linejoin="round"/>
<path d="M2835 3740 L2900 3690" fill="none" stroke="#606164" stroke-width="13" stroke-linecap="round" stroke-linejoin="round"/>
<path d="M2822 3760 C2811.7 3750.0 2780.3 3712.5 2760 3700 C2739.7 3687.5 2710.0 3687.5 2700 3685" fill="none" stroke="#606164" stroke-width="14" stroke-linecap="round" stroke-linejoin="round"/>
<path d="M3010 4110 C3008.3 4090.0 3006.7 4025.0 3000 3990 C2993.3 3955.0 2975.0 3915.0 2970 3900" fill="none" stroke="#606164" stroke-width="18" stroke-linecap="round" stroke-linejoin="round"/>
<path d="M3010 4110 C2998.3 4101.7 2961.7 4070.0 2940 4060 C2918.3 4050.0 2890.0 4051.7 2880 4050" fill="none" stroke="#606164" stroke-width="14" stroke-linecap="round" stroke-linejoin="round"/>
<path d="M3010 4110 L3070 4060" fill="none" stroke="#606164" stroke-width="12" stroke-linecap="round" stroke-linejoin="round"/>
<path d="M3010 4110 L2980 4150" fill="none" stroke="#606164" stroke-width="14" stroke-linecap="round" stroke-linejoin="round"/>
<path d="M836 3843Q817 3717 845 3620Q794 3714 796 3837Z" fill="#48494c"/>
<path d="M827 3832Q796 3775 748 3744Q784 3784 805 3848Z" fill="#48494c"/>
<path d="M825 3853Q891 3778 963 3744Q880 3762 807 3827Z" fill="#48494c"/>
<path d="M820 3828Q772 3806 725 3812Q767 3821 812 3852Z" fill="#48494c"/>
<path d="M812 3854Q863 3851 901 3863Q868 3834 820 3826Z" fill="#48494c"/>
<path d="M808 3831Q785 3849 776 3875Q795 3860 824 3849Z" fill="#48494c"/>
<circle cx="816" cy="3840" r="18.0" fill="#48494c"/>
<path d="M472 4017Q463 3918 487 3844Q439 3913 432 4009Z" fill="#48494c"/>
<path d="M457 4027Q538 4011 592 3964Q532 3994 447 3999Z" fill="#48494c"/>
<path d="M449 3999Q409 4022 373 4028Q412 4039 455 4027Z" fill="#48494c"/>
<path d="M444 4023Q486 4065 537 4078Q496 4053 460 4003Z" fill="#48494c"/>
<path d="M440 4010Q442 4062 428 4100Q456 4066 464 4016Z" fill="#48494c"/>
<circle cx="452" cy="4013" r="18.0" fill="#48494c"/>
<path d="M1511 3892Q1462 3758 1471 3645Q1438 3760 1471 3896Z" fill="#48494c"/>
<path d="M1500 3883Q1429 3804 1342 3775Q1418 3817 1482 3905Z" fill="#48494c"/>
<path d="M1500 3907Q1562 3836 1631 3804Q1552 3820 1482 3881Z" fill="#48494c"/>
<path d="M1489 3881Q1439 3881 1400 3905Q1441 3897 1493 3907Z" fill="#48494c"/>
<path d="M1482 3903Q1531 3928 1560 3960Q1542 3916 1500 3885Z" fill="#48494c"/>
<circle cx="1491" cy="3894" r="18.0" fill="#48494c"/>
<path d="M1600 4056Q1557 3976 1551 3904Q1535 3980 1562 4064Z" fill="#48494c"/>
<path d="M1585 4046Q1511 4015 1442 4023Q1507 4031 1577 4074Z" fill="#48494c"/>
<path d="M1589 4071Q1632 4016 1680 3990Q1622 4003 1573 4049Z" fill="#48494c"/>
<path d="M1568 4063Q1573 4113 1600 4150Q1588 4110 1594 4057Z" fill="#48494c"/>
<circle cx="1581" cy="4060" r="18.0" fill="#48494c"/>
<path d="M1674 3490L1704 3490L1716 3600L1668 3600Z" fill="#5b5c5f"/><ellipse cx="1692" cy="3606" rx="30" ry="17" fill="#5b5c5f"/>
<path d="M1689 3495 L1668 3430 L1652 3371 L1696 3368" fill="none" stroke="#2e2e30" stroke-width="15" stroke-linejoin="miter" stroke-miterlimit="6"/>
<path d="M1689 3495 L1690 3440 L1744 3402 L1808 3446" fill="none" stroke="#2e2e30" stroke-width="15" stroke-linejoin="miter" stroke-miterlimit="6"/>
<path d="M1689 3495 L1640 3450 L1540 3412 L1550 3487" fill="none" stroke="#2e2e30" stroke-width="15" stroke-linejoin="miter" stroke-miterlimit="6"/>
<path d="M1689 3495 L1720 3470 L1774 3446 L1812 3517" fill="none" stroke="#2e2e30" stroke-width="15" stroke-linejoin="miter" stroke-miterlimit="6"/><path d="M0 3226L131.5 3060L574 2600L772 2390L858 2304L1010 2150" fill="none" stroke="#1a1a1a" stroke-width="3.3" stroke-linejoin="miter"/>
<path d="M0 2092 L187 2109 L249.4 2068 L168 2055 L330.5 1946.7 L407 1964.8 L513 1893.4 L434 1881 L556.7 1792 L633 1807 L710 1756 L641.7 1742 L734 1686.5 L804 1697 L848.6 1664.4 L935 2118 L880 2203 L343 2675 L0 2627Z" fill="#fff" stroke="#1a1a1a" stroke-width="3.3"/>
<path d="M187 2109L343 2675" stroke="#1a1a1a" stroke-width="5.5" fill="none"/>
<path d="M330.5 1946.7L355.4 2043L436.5 2064L407 1964.8M249.4 2068L280.6 2182.5L436.5 2064M556.7 1792L579 1885.5L652 1899.6L633 1807M513 1893.4L534 1991.5L652 1899.6M734 1686.5L748 1763.6L820 1777.8L804 1697M710 1756L727 1845.8L820 1777.8" fill="none" stroke="#1a1a1a" stroke-width="3.3" stroke-linejoin="miter"/>
<path d="M0 2795L52 2797L111 2956L0 3053.5M0 2840L52 2797" fill="none" stroke="#1a1a1a" stroke-width="3.3" stroke-linejoin="miter"/>
<path d="M3173 1979L3300.5 2017L3491.6 2033M3173 1979L3130 2175.7L3147.5 2440L3158.8 2609.8L3213.8 2924.4L3277.8 2929M3173 1979L3215.5 2368.5L3196.8 2440L3158.8 2604M3300.5 2017L3215.5 2368.5M3300.5 2017L3385 2379.8L3508 2377M3385 2379.8L3366.8 2440L3216.6 2910M3443.4 2435L3259 3023.6L3392.4 3200L3508 3361M3443.4 2435L3508 2442.5M3443.4 2435L3508 2502" fill="none" stroke="#1a1a1a" stroke-width="3.3" stroke-linejoin="miter"/>
<path d="M3075 3083L3018.2 3088.8L2967 3452" fill="none" stroke="#1a1a1a" stroke-width="7"/>
<path d="M1119 1956h18v18h-18zM1137 1958L1194 1964L1213 2150" fill="none" stroke="#1a1a1a" stroke-width="5"/>
<ellipse cx="563" cy="2848" rx="9" ry="13" fill="#1a1a1a"/><ellipse cx="488" cy="2928" rx="9" ry="13" fill="#1a1a1a"/>
<path d="M401 2902L417 2862L470.5 2813L507 2792L578 2805L584 2820.6L466 2943L405 2927Z" fill="#fff" stroke="#1a1a1a" stroke-width="4" stroke-linejoin="round"/>
<path d="M417 2862L474 2872L466 2943M401 2902L470 2900M470.5 2813L540 2828L578 2805M474 2872L540 2828" fill="none" stroke="#1a1a1a" stroke-width="3.3" stroke-linejoin="miter"/>
<ellipse cx="3283" cy="3523" rx="9" ry="14" fill="#1a1a1a"/><ellipse cx="3352" cy="3640" rx="9" ry="14" fill="#1a1a1a"/>
<path d="M3270.5 3486L3276 3472L3364 3473L3392 3509L3406.5 3509L3457.5 3581L3466 3633.7L3460 3659L3375 3666Z" fill="#fff" stroke="#1a1a1a" stroke-width="4" stroke-linejoin="round"/>
<path d="M3290 3471L3320 3510L3392 3509M3340 3509L3381 3582L3457.5 3581M3381 3582L3383 3620L3375 3666M3383 3620L3464 3614" fill="none" stroke="#1a1a1a" stroke-width="3.3" stroke-linejoin="miter"/>
<ellipse cx="998" cy="2261" rx="9" ry="13" fill="#1a1a1a"/><ellipse cx="1106" cy="2159" rx="9" ry="13" fill="#1a1a1a"/><ellipse cx="1129" cy="2139" rx="9" ry="13" fill="#1a1a1a"/>
<path d="M873.7 2175.7L1043.8 2031L1120 2042.5L948.5 2198.4Z" fill="#fff" stroke="#1a1a1a" stroke-width="3.5" stroke-linejoin="round"/>
<path d="M948.5 2198.4L1120 2042.5L1145.8 2110.5L1134.5 2133L956 2283.4Z" fill="#fff" stroke="#1a1a1a" stroke-width="3.5" stroke-linejoin="round"/>
<path d="M873.7 2175.7L948.5 2198.4L956 2283.4L879.4 2269ZM876.5 2224L953 2235" fill="#fff" stroke="#1a1a1a" stroke-width="3.5" stroke-linejoin="round"/>
<ellipse cx="914" cy="2431" rx="8" ry="11" fill="#1a1a1a"/><ellipse cx="985" cy="2362" rx="8" ry="11" fill="#555"/>
<path d="M844 2413L858.7 2377.5L928 2322L993.9 2334.5L991.6 2347L898.6 2440L848.7 2428.8Z" fill="#fff" stroke="#1a1a1a" stroke-width="3.5" stroke-linejoin="round"/>
<path d="M858.7 2377.5L905.4 2390L898.6 2440M905.4 2390L991.6 2347M846 2402L902 2414M910 2335.8L935 2322L980 2331L957.6 2351.7Z" fill="none" stroke="#1a1a1a" stroke-width="3"/><path d="M885.0 2088.0 Q889.7 2055.8 927.2 2070.3 Q938.5 2043.0 970.6 2055.8 Q986.2 2030.4 1014.4 2042.4 Q1037.5 2012.3 1059.2 2035.6 Q1094.2 2024.6 1097.8 2058.7 Q1135.0 2056.4 1130.7 2090.5 Q1188.6 2085.6 1183.5 2150.4 Q1220.3 2178.6 1185.3 2196.1 Q1217.2 2223.3 1183.3 2241.8 Q1202.0 2266.5 1171.7 2286.0 Q1197.2 2338.8 1127.5 2365.9 Q1141.0 2440.9 1062.5 2429.2 Q1040.0 2504.2 975.2 2454.3 Q946.4 2488.2 929.5 2452.7 Q904.2 2459.4 891.3 2430.1 Q811.0 2414.3 856.8 2345.4 Q817.2 2333.6 845.2 2301.2 Q825.7 2275.9 846.8 2255.6 Q815.7 2234.8 848.5 2210.1 Q826.1 2193.1 842.7 2166.2 Q818.8 2129.4 858.4 2123.3 Q853.4 2096.1 885.0 2088.0Z" fill="#a9aaad" fill-opacity="0.6" stroke="#85868a" stroke-width="3.5" stroke-opacity="0.9" stroke-linejoin="round"/>
<path d="M1255.0 1814.0 Q1281.5 1804.0 1292.7 1826.4 Q1320.5 1819.6 1325.2 1849.5 Q1356.9 1844.0 1348.6 1881.7 Q1395.9 1920.2 1370.0 1958.5 Q1422.1 1980.3 1382.9 2036.8 Q1403.5 2070.8 1369.6 2074.3 Q1349.3 2122.0 1297.7 2104.8 Q1281.7 2125.1 1257.8 2108.5 Q1243.6 2135.3 1217.9 2111.2 Q1203.8 2138.3 1177.9 2111.9 Q1150.3 2120.4 1142.9 2097.8 Q1116.2 2085.7 1132.1 2059.6 Q1075.5 2043.9 1104.2 1991.9 Q1086.7 1979.7 1105.5 1959.7 Q1074.0 1899.1 1129.7 1890.7 Q1109.8 1860.1 1143.8 1854.8 Q1158.4 1799.9 1215.8 1821.2 Q1232.7 1791.0 1255.0 1814.0Z" fill="#a9aaad" fill-opacity="0.6" stroke="#85868a" stroke-width="3.5" stroke-opacity="0.9" stroke-linejoin="round"/>
<path d="M1488.0 1916.0 Q1495.4 1964.4 1448.6 1974.8 Q1439.0 1997.4 1413.5 1986.5 Q1391.3 2007.8 1376.5 1986.5 Q1356.6 2004.8 1341.4 1974.8 Q1295.3 1972.1 1302.0 1916.0 Q1282.2 1852.2 1341.4 1857.2 Q1376.2 1799.0 1413.5 1845.5 Q1478.1 1824.9 1476.4 1881.3 Q1505.9 1888.0 1488.0 1916.0Z" fill="#a9aaad" fill-opacity="0.6" stroke="#85868a" stroke-width="3.5" stroke-opacity="0.9" stroke-linejoin="round"/>
<path d="M1377.0 2007.1 Q1391.4 2057.7 1336.3 2057.3 Q1326.2 2080.9 1304.4 2060.4 Q1279.0 2057.5 1281.9 2037.5 Q1261.8 2026.6 1276.5 2005.2 Q1245.2 1956.4 1298.8 1944.0 Q1316.5 1904.5 1355.6 1919.6 Q1379.7 1913.9 1378.1 1942.5 Q1401.4 1951.5 1383.5 1974.8 Q1398.5 1990.4 1377.0 2007.1Z" fill="#a9aaad" fill-opacity="0.6" stroke="#85868a" stroke-width="3.5" stroke-opacity="0.9" stroke-linejoin="round"/>
<path d="M1720.0 1992.0 Q1735.1 2012.7 1710.2 2029.4 Q1710.4 2102.4 1651.6 2078.9 Q1643.6 2109.8 1614.2 2089.6 Q1572.0 2145.7 1536.8 2085.3 Q1511.7 2096.0 1500.9 2070.2 Q1449.2 2075.7 1452.7 2011.3 Q1428.6 1993.6 1452.7 1972.7 Q1442.9 1939.8 1471.0 1938.6 Q1468.9 1907.4 1500.9 1913.8 Q1513.1 1877.7 1536.8 1898.7 Q1583.2 1849.8 1614.2 1894.4 Q1655.0 1876.1 1685.1 1925.0 Q1715.2 1931.6 1710.2 1954.6 Q1740.7 1969.2 1720.0 1992.0Z" fill="#a9aaad" fill-opacity="0.6" stroke="#85868a" stroke-width="3.5" stroke-opacity="0.9" stroke-linejoin="round"/>
<path d="M1628.0 1948.0 Q1640.0 1970.7 1617.0 1979.1 Q1611.7 2002.6 1590.6 1999.2 Q1579.0 2026.1 1558.0 2005.9 Q1507.3 2033.2 1499.0 1979.1 Q1472.2 1974.4 1488.0 1948.0 Q1476.3 1926.7 1499.0 1916.9 Q1524.6 1872.7 1558.0 1890.1 Q1574.7 1871.4 1590.6 1896.8 Q1615.9 1889.7 1617.0 1916.9 Q1636.6 1923.9 1628.0 1948.0Z" fill="#a9aaad" fill-opacity="0.6" stroke="#85868a" stroke-width="3.5" stroke-opacity="0.9" stroke-linejoin="round"/>
<path d="M1740.0 1691.0 Q1742.5 1660.3 1774.4 1671.5 Q1783.6 1646.6 1811.4 1657.1 Q1837.8 1641.5 1850.1 1664.4 Q1877.3 1659.3 1880.2 1688.0 Q1915.5 1691.0 1904.9 1718.2 Q1928.1 1726.8 1914.4 1755.7 Q1981.7 1791.7 1927.7 1832.8 Q1939.7 1863.2 1907.4 1864.5 Q1924.3 1904.5 1874.7 1923.8 Q1918.8 1958.0 1881.2 2001.0 Q1888.9 2056.4 1841.4 2068.4 Q1835.3 2127.7 1769.4 2096.9 Q1742.0 2118.1 1731.8 2084.9 Q1662.5 2097.6 1677.6 2028.2 Q1644.3 2021.1 1662.4 1991.5 Q1634.2 1975.9 1656.2 1952.3 Q1625.4 1918.1 1663.8 1873.4 Q1650.3 1849.6 1675.7 1835.6 Q1666.2 1807.2 1694.8 1800.7 Q1677.2 1773.9 1709.1 1763.7 Q1695.5 1737.9 1722.0 1726.1 Q1705.8 1691.9 1740.0 1691.0Z" fill="#a9aaad" fill-opacity="0.6" stroke="#85868a" stroke-width="3.5" stroke-opacity="0.9" stroke-linejoin="round"/>
<path d="M1893.0 1905.0 Q1912.7 1933.4 1888.6 1944.9 Q1897.8 1973.2 1875.8 1982.9 Q1891.8 2012.3 1853.9 2016.5 Q1843.7 2082.5 1785.0 2054.3 Q1765.5 2082.9 1745.3 2050.2 Q1711.9 2059.5 1710.5 2030.5 Q1679.2 2034.3 1684.1 2000.4 Q1633.8 1964.5 1658.2 1925.1 Q1616.8 1868.6 1666.6 1845.7 Q1660.0 1816.0 1684.1 1809.6 Q1679.2 1771.9 1710.5 1779.5 Q1734.8 1736.7 1785.0 1755.7 Q1812.3 1746.2 1823.0 1768.1 Q1888.9 1776.8 1875.8 1827.1 Q1904.3 1842.1 1888.6 1865.1 Q1919.7 1878.7 1893.0 1905.0Z" fill="#a9aaad" fill-opacity="0.6" stroke="#85868a" stroke-width="3.5" stroke-opacity="0.9" stroke-linejoin="round"/>
<path d="M1526.0 2127.0 Q1552.1 2064.5 1608.4 2087.4 Q1636.8 2054.4 1654.3 2088.6 Q1705.0 2054.4 1743.3 2111.8 Q1808.9 2107.6 1817.6 2154.1 Q1846.7 2173.2 1829.8 2198.5 Q1858.3 2222.4 1830.3 2244.5 Q1855.6 2274.6 1825.8 2290.4 Q1853.4 2313.0 1822.0 2336.3 Q1859.5 2386.1 1812.2 2428.0 Q1856.4 2488.3 1773.3 2507.1 Q1758.8 2543.2 1730.0 2520.4 Q1682.3 2553.4 1640.9 2497.3 Q1610.2 2519.5 1597.2 2482.8 Q1565.1 2495.8 1556.1 2462.0 Q1522.9 2462.9 1519.7 2434.0 Q1484.0 2424.5 1501.2 2392.4 Q1450.4 2338.9 1499.5 2300.6 Q1435.7 2252.1 1502.0 2209.7 Q1481.2 2192.6 1500.7 2164.8 Q1492.2 2138.6 1526.0 2127.0Z" fill="#a9aaad" fill-opacity="0.6" stroke="#85868a" stroke-width="3.5" stroke-opacity="0.9" stroke-linejoin="round"/>
<path d="M1337.0 2207.0 Q1348.3 2229.1 1323.4 2240.8 Q1321.8 2264.4 1292.4 2260.6 Q1278.3 2282.0 1255.7 2264.5 Q1234.0 2281.5 1220.7 2252.7 Q1198.6 2252.1 1196.7 2225.1 Q1174.4 2208.2 1196.7 2188.9 Q1204.6 2125.2 1255.7 2149.5 Q1294.9 2120.0 1323.4 2173.2 Q1354.3 2183.5 1337.0 2207.0Z" fill="#a9aaad" fill-opacity="0.6" stroke="#85868a" stroke-width="3.5" stroke-opacity="0.9" stroke-linejoin="round"/>
<path d="M1505.0 2350.0 Q1531.3 2374.1 1498.1 2388.9 Q1506.2 2413.9 1478.3 2423.1 Q1483.0 2457.2 1447.6 2447.9 Q1433.9 2475.7 1409.9 2459.4 Q1357.1 2500.9 1335.8 2437.0 Q1308.9 2432.8 1310.2 2406.9 Q1289.1 2398.6 1296.8 2369.8 Q1277.5 2347.7 1296.8 2330.2 Q1284.9 2302.6 1310.2 2293.1 Q1310.2 2245.4 1370.6 2244.4 Q1391.1 2225.4 1409.9 2240.6 Q1434.0 2217.9 1447.6 2252.1 Q1495.3 2247.4 1498.1 2311.1 Q1526.6 2323.7 1505.0 2350.0Z" fill="#a9aaad" fill-opacity="0.6" stroke="#85868a" stroke-width="3.5" stroke-opacity="0.9" stroke-linejoin="round"/>
<path d="M1560.0 2400.0 Q1565.5 2449.8 1517.6 2450.1 Q1501.0 2469.6 1483.7 2457.7 Q1467.9 2474.1 1449.1 2455.2 Q1422.6 2460.8 1416.9 2442.3 Q1362.1 2421.9 1393.8 2383.1 Q1385.8 2359.1 1416.9 2357.7 Q1426.0 2333.9 1449.1 2344.8 Q1470.0 2327.2 1483.7 2342.3 Q1501.3 2326.6 1517.6 2349.9 Q1542.3 2336.5 1546.5 2368.8 Q1576.6 2373.8 1560.0 2400.0Z" fill="#a9aaad" fill-opacity="0.6" stroke="#85868a" stroke-width="3.5" stroke-opacity="0.9" stroke-linejoin="round"/>
<path d="M1215.0 2290.0 Q1233.8 2313.9 1210.1 2330.1 Q1237.4 2399.4 1167.8 2397.3 Q1125.3 2454.2 1092.2 2397.3 Q1062.6 2390.8 1065.2 2367.5 Q1007.3 2345.9 1045.0 2290.0 Q1019.4 2233.2 1065.2 2212.5 Q1063.5 2176.7 1092.2 2182.7 Q1140.5 2129.8 1167.8 2182.7 Q1201.5 2182.5 1194.8 2212.5 Q1225.2 2218.7 1210.1 2249.9 Q1242.9 2263.9 1215.0 2290.0Z" fill="#a9aaad" fill-opacity="0.6" stroke="#85868a" stroke-width="3.5" stroke-opacity="0.9" stroke-linejoin="round"/>
<path d="M1730.0 2060.0 Q1745.7 2078.5 1718.9 2093.7 Q1714.3 2119.0 1691.9 2117.1 Q1681.3 2142.3 1657.9 2128.6 Q1618.1 2171.2 1588.1 2117.1 Q1562.0 2115.3 1561.1 2093.7 Q1533.8 2082.3 1550.0 2060.0 Q1535.5 2031.2 1561.1 2026.3 Q1577.1 1972.6 1622.1 1991.4 Q1664.8 1958.8 1691.9 2002.9 Q1719.3 1995.6 1718.9 2026.3 Q1739.5 2037.9 1730.0 2060.0Z" fill="#a9aaad" fill-opacity="0.6" stroke="#85868a" stroke-width="3.5" stroke-opacity="0.9" stroke-linejoin="round"/>
<path d="M1494.9 2424 L1515.1 2452.8 L1512.2 2435.5 L1532.3 2481.5 L1538.1 2441.3 L1555.4 2458.5 L1561.1 2481.5 L1552.5 2521.8 L1561.1 2533.3 L1569.7 2516.1 L1566.9 2475.8 L1578.4 2441.3 L1584.1 2472.9 L1607.1 2435.5 L1612.9 2493 L1638.8 2435.5 L1656 2432.6 L1684.8 2421.1 L1690.6 2458.5 L1696.3 2424 L1716.5 2484.4 L1725.1 2481.5 L1716.5 2395.2 L1745.2 2452.8 L1756.7 2481.5 L1753.9 2395.2 L1771.1 2424 L1776.9 2475.8 L1788.4 2380.8 L1799.9 2487.3 L1808.5 2424 L1808.5 2395.2 L1494.9 2395.2Z" fill="#a9aaad" fill-opacity="0.4"/><path d="M1494.9 2424 L1515.1 2452.8 L1512.2 2435.5 L1532.3 2481.5 L1538.1 2441.3 L1555.4 2458.5 L1561.1 2481.5 L1552.5 2521.8 L1561.1 2533.3 L1569.7 2516.1 L1566.9 2475.8 L1578.4 2441.3 L1584.1 2472.9 L1607.1 2435.5 L1612.9 2493 L1638.8 2435.5 L1656 2432.6 L1684.8 2421.1 L1690.6 2458.5 L1696.3 2424 L1716.5 2484.4 L1725.1 2481.5 L1716.5 2395.2 L1745.2 2452.8 L1756.7 2481.5 L1753.9 2395.2 L1771.1 2424 L1776.9 2475.8 L1788.4 2380.8 L1799.9 2487.3 L1808.5 2424" fill="none" stroke="#77787c" stroke-width="3" stroke-linejoin="round"/>
<path d="M1790 2010 L1800 2060 L1812 2015 L1822 2085 L1836 2020 L1850 2095 L1862 2030 L1874 2088 L1886 2010 L1896 2070 L1905 2000 L1905 1960 L1790 1960Z" fill="#a9aaad" fill-opacity="0.4"/><path d="M1790 2010 L1800 2060 L1812 2015 L1822 2085 L1836 2020 L1850 2095 L1862 2030 L1874 2088 L1886 2010 L1896 2070 L1905 2000" fill="none" stroke="#77787c" stroke-width="3" stroke-linejoin="round"/>
<path d="M2630.0 1880.0 Q2660.9 1932.9 2601.3 1953.0 Q2577.5 2016.7 2532.0 1990.3 Q2517.8 2008.5 2492.0 1990.3 Q2464.5 2013.0 2454.2 1977.5 Q2401.9 1977.2 2401.5 1919.2 Q2358.3 1869.3 2401.5 1840.8 Q2394.5 1790.5 2454.2 1782.5 Q2465.6 1752.0 2492.0 1769.7 Q2548.6 1718.0 2569.8 1782.5 Q2596.2 1775.3 2601.3 1807.0 Q2639.4 1813.6 2622.5 1840.8 Q2643.7 1859.9 2630.0 1880.0Z" fill="#a9aaad" fill-opacity="0.6" stroke="#85868a" stroke-width="3.5" stroke-opacity="0.9" stroke-linejoin="round"/>
<path d="M2408.6 1835.6 Q2460.4 1789.6 2483.6 1863.2 Q2526.5 1847.6 2550.6 1900.9 Q2618.7 1914.6 2571.6 1978.6 Q2592.3 1990.7 2576.0 2018.7 Q2592.1 2034.8 2572.1 2058.7 Q2588.6 2080.4 2560.4 2097.2 Q2564.2 2161.7 2513.4 2160.1 Q2492.0 2180.3 2475.0 2163.1 Q2446.3 2182.2 2437.1 2150.0 Q2421.1 2180.3 2398.4 2160.3 Q2391.8 2190.1 2360.8 2174.7 Q2349.3 2199.3 2322.2 2183.7 Q2289.4 2194.0 2285.6 2167.6 Q2237.6 2152.1 2266.6 2096.3 Q2249.5 2067.2 2276.6 2057.3 Q2238.0 2005.2 2289.8 1978.1 Q2262.2 1941.3 2308.8 1901.6 Q2303.4 1871.8 2339.9 1876.1 Q2342.8 1847.9 2372.8 1852.7 Q2377.3 1829.0 2408.6 1835.6Z" fill="#a9aaad" fill-opacity="0.6" stroke="#85868a" stroke-width="3.5" stroke-opacity="0.9" stroke-linejoin="round"/>
<path d="M2385.9 1983.0 Q2416.4 1968.8 2423.0 1998.9 Q2444.2 1988.0 2459.9 2015.6 Q2480.6 1986.2 2500.3 2019.7 Q2559.9 2027.6 2552.6 2074.5 Q2584.7 2074.3 2572.7 2109.7 Q2598.6 2119.6 2584.9 2148.5 Q2607.4 2160.2 2589.6 2188.6 Q2635.4 2227.1 2583.9 2268.0 Q2604.1 2286.9 2578.9 2307.5 Q2586.8 2329.8 2557.2 2341.7 Q2555.0 2379.2 2524.1 2364.6 Q2512.8 2392.0 2484.3 2371.3 Q2465.8 2387.9 2444.2 2365.0 Q2426.7 2384.6 2403.9 2360.0 Q2389.8 2382.9 2363.6 2364.7 Q2341.9 2384.9 2323.2 2365.5 Q2263.5 2379.6 2258.8 2317.6 Q2206.6 2293.2 2235.1 2244.6 Q2211.5 2220.5 2244.5 2205.0 Q2215.2 2159.6 2257.6 2124.8 Q2243.5 2095.3 2270.2 2086.3 Q2266.6 2055.4 2290.7 2051.3 Q2289.6 2024.2 2315.4 2019.0 Q2315.6 1989.5 2347.7 1994.7 Q2360.5 1959.9 2385.9 1983.0Z" fill="#a9aaad" fill-opacity="0.6" stroke="#85868a" stroke-width="3.5" stroke-opacity="0.9" stroke-linejoin="round"/>
<path d="M2408.6 2158.7 Q2433.6 2148.3 2443.6 2176.7 Q2464.4 2160.2 2480.8 2180.4 Q2504.3 2158.8 2519.1 2185.9 Q2546.1 2174.9 2554.2 2204.2 Q2585.1 2203.9 2584.4 2229.5 Q2615.9 2241.3 2599.1 2266.2 Q2631.4 2273.0 2612.2 2303.5 Q2636.0 2311.6 2628.6 2339.5 Q2671.5 2399.3 2607.1 2413.9 Q2626.0 2439.2 2602.1 2452.5 Q2603.6 2484.0 2577.8 2482.5 Q2573.4 2535.5 2528.0 2535.8 Q2476.2 2585.0 2451.9 2515.6 Q2440.5 2540.0 2414.0 2521.2 Q2406.6 2545.9 2378.3 2535.8 Q2357.1 2549.7 2341.6 2521.3 Q2292.0 2534.0 2281.2 2470.9 Q2229.1 2449.6 2261.7 2400.5 Q2246.2 2349.7 2285.8 2339.3 Q2268.2 2316.0 2292.1 2300.2 Q2278.6 2265.7 2312.3 2266.4 Q2299.8 2231.6 2335.3 2234.2 Q2308.9 2216.0 2340.6 2195.6 Q2346.3 2164.0 2376.7 2180.2 Q2383.7 2150.6 2408.6 2158.7Z" fill="#a9aaad" fill-opacity="0.6" stroke="#85868a" stroke-width="3.5" stroke-opacity="0.9" stroke-linejoin="round"/>
<path d="M2526.7 2912.9 Q2544.7 2928.8 2531.3 2946.1 Q2552.5 2962.7 2530.7 2979.5 Q2563.7 3024.6 2502.4 3037.5 Q2465.3 3064.2 2445.9 3013.4 Q2417.2 3015.1 2428.9 2984.6 Q2403.0 2972.8 2417.4 2953.3 Q2365.2 2935.0 2408.2 2887.2 Q2371.7 2836.3 2425.3 2823.6 Q2434.0 2800.0 2453.8 2809.1 Q2472.9 2800.4 2483.0 2824.1 Q2525.4 2832.7 2517.4 2880.8 Q2545.0 2889.8 2526.7 2912.9Z" fill="#a9aaad" fill-opacity="0.6" stroke="#85868a" stroke-width="3.5" stroke-opacity="0.9" stroke-linejoin="round"/>
<path d="M2644.0 2567.0 Q2676.2 2546.7 2684.4 2588.3 Q2746.7 2536.5 2774.2 2604.8 Q2838.4 2587.7 2857.5 2644.2 Q2886.7 2659.9 2875.5 2682.8 Q2905.4 2711.0 2876.0 2727.1 Q2904.6 2730.3 2905.0 2762.9 Q2942.7 2770.7 2926.6 2803.7 Q2944.4 2833.6 2920.8 2847.6 Q2931.0 2884.6 2889.7 2880.5 Q2881.5 2912.6 2852.3 2906.6 Q2866.4 2940.1 2834.2 2949.0 Q2845.4 2982.0 2809.1 2987.4 Q2806.9 3013.8 2772.9 3015.4 Q2751.5 3046.2 2727.6 3023.0 Q2666.4 3064.5 2638.0 3005.8 Q2558.2 3007.5 2571.6 2942.1 Q2535.0 2943.8 2543.9 2905.2 Q2488.7 2904.8 2487.3 2832.3 Q2456.8 2816.2 2466.5 2791.1 Q2427.2 2773.7 2455.2 2746.5 Q2434.7 2685.5 2488.0 2662.6 Q2497.8 2628.4 2524.8 2634.9 Q2535.1 2555.0 2601.4 2583.4 Q2611.2 2548.4 2644.0 2567.0Z" fill="#a9aaad" fill-opacity="0.6" stroke="#85868a" stroke-width="3.5" stroke-opacity="0.9" stroke-linejoin="round"/>
<path d="M2766.0 2839.0 Q2797.7 2825.2 2810.4 2849.6 Q2881.9 2812.5 2897.6 2880.8 Q2965.4 2840.2 2983.4 2915.9 Q3050.3 2919.5 3018.3 2981.8 Q3053.8 2995.9 3035.2 3022.9 Q3075.2 3031.1 3059.5 3062.0 Q3095.9 3076.0 3076.0 3105.3 Q3108.5 3146.4 3064.2 3191.2 Q3079.0 3215.9 3046.3 3232.2 Q3080.9 3272.1 3028.8 3314.0 Q2998.4 3375.4 2942.8 3344.9 Q2917.9 3366.9 2897.2 3337.9 Q2857.0 3382.4 2805.8 3336.1 Q2743.8 3388.1 2721.8 3314.7 Q2697.2 3336.5 2679.9 3302.5 Q2681.1 3338.9 2640.8 3327.0 Q2592.6 3379.7 2557.7 3337.0 Q2519.8 3336.8 2529.5 3301.1 Q2496.6 3276.4 2525.3 3255.5 Q2483.0 3193.2 2564.2 3171.8 Q2557.0 3144.0 2587.1 3131.5 Q2570.0 3106.8 2600.1 3087.9 Q2512.6 3066.1 2561.2 3004.2 Q2546.2 2940.1 2605.8 2930.4 Q2614.8 2892.5 2643.9 2904.1 Q2650.4 2837.2 2723.5 2856.8 Q2736.5 2826.0 2766.0 2839.0Z" fill="#a9aaad" fill-opacity="0.6" stroke="#85868a" stroke-width="3.5" stroke-opacity="0.9" stroke-linejoin="round"/>
<path d="M2848.1 3227.2 Q2913.8 3185.5 2928.5 3259.4 Q2953.7 3229.0 2970.6 3261.8 Q3031.4 3238.6 3058.0 3292.4 Q3094.2 3268.7 3102.5 3304.7 Q3136.4 3299.8 3138.6 3333.4 Q3162.0 3357.7 3127.1 3374.9 Q3169.6 3382.3 3149.6 3415.4 Q3180.0 3410.4 3188.3 3438.2 Q3238.2 3461.3 3204.2 3516.8 Q3214.0 3557.6 3180.1 3556.4 Q3201.8 3581.0 3167.1 3599.5 Q3197.6 3589.0 3201.6 3616.8 Q3215.6 3657.8 3175.6 3654.3 Q3154.2 3682.8 3132.0 3669.2 Q3112.9 3697.5 3085.9 3666.5 Q3042.6 3701.0 2995.5 3646.4 Q2980.2 3678.6 2949.4 3650.8 Q2944.8 3688.0 2906.2 3667.7 Q2900.4 3703.5 2865.5 3690.3 Q2848.8 3738.7 2779.2 3721.6 Q2742.4 3748.7 2733.9 3711.2 Q2711.2 3736.3 2688.5 3718.2 Q2657.8 3750.9 2643.5 3714.7 Q2605.4 3726.8 2608.6 3684.5 Q2569.5 3682.1 2583.4 3645.5 Q2542.5 3631.7 2569.3 3601.9 Q2562.4 3559.6 2599.0 3567.6 Q2551.3 3520.3 2598.3 3483.0 Q2582.1 3435.1 2638.4 3410.8 Q2620.0 3379.8 2657.1 3374.9 Q2631.9 3357.6 2654.8 3338.9 Q2669.8 3273.8 2731.3 3289.9 Q2725.9 3252.6 2764.8 3262.6 Q2777.9 3234.2 2809.9 3253.0 Q2820.2 3219.1 2848.1 3227.2Z" fill="#a9aaad" fill-opacity="0.6" stroke="#85868a" stroke-width="3.5" stroke-opacity="0.9" stroke-linejoin="round"/>
<path d="M3001.2 3618.4 Q2962.6 3604.8 2960.9 3640.5 Q2937.2 3621.2 2918.5 3654.9 Q2883.6 3637.9 2878.4 3672.7 Q2817.0 3649.3 2810.5 3719.9 Q2754.0 3747.4 2797.3 3788.5 Q2729.5 3798.5 2754.4 3861.0 Q2707.0 3892.4 2739.6 3940.8 Q2673.6 3951.3 2703.3 4005.8 Q2637.8 4037.9 2670.2 4089.9 Q2635.1 4092.2 2653.3 4130.0 Q2661.2 4157.1 2693.8 4148.7 Q2718.1 4171.2 2739.8 4153.8 Q2761.9 4185.2 2786.0 4156.3 Q2805.9 4193.0 2832.2 4157.8 Q2849.5 4180.9 2878.5 4158.7 Q2933.9 4209.2 2971.1 4159.2 Q3005.5 4218.1 3063.6 4158.7 Q3080.9 4185.1 3109.9 4157.9 Q3128.5 4187.4 3156.2 4157.0 Q3207.9 4200.1 3248.7 4153.9 Q3305.3 4214.1 3340.1 4143.4 Q3324.3 4079.6 3266.5 4097.3 Q3293.8 4091.5 3283.4 4056.1 Q3348.6 4031.7 3324.2 3974.2 Q3356.3 3959.4 3330.3 3928.3 Q3365.6 3903.0 3333.5 3882.2 Q3336.0 3831.2 3296.7 3832.3 Q3305.5 3805.2 3270.0 3796.1 Q3294.5 3767.0 3266.4 3751.9 Q3285.7 3726.5 3257.1 3714.1 Q3238.9 3649.1 3171.5 3681.9 Q3143.6 3623.7 3083.7 3656.6 Q3073.7 3617.0 3044.3 3632.4 Q3032.2 3607.2 3001.2 3618.4Z" fill="#a9aaad" fill-opacity="0.6" stroke="#85868a" stroke-width="3.5" stroke-opacity="0.9" stroke-linejoin="round"/>
<path d="M3250.0 4130.0 Q3274.5 4193.6 3193.2 4197.3 Q3179.5 4231.4 3150.7 4215.2 Q3129.3 4290.9 3060.6 4234.9 Q3009.4 4284.8 2968.5 4239.8 Q2927.4 4307.1 2876.6 4231.5 Q2814.4 4257.7 2787.7 4207.1 Q2724.8 4219.9 2715.8 4152.1 Q2676.6 4084.6 2747.0 4074.5 Q2774.7 3996.8 2831.5 4038.2 Q2851.6 4001.6 2876.6 4028.5 Q2919.7 3964.3 2968.5 4020.2 Q2997.5 4000.3 3014.6 4021.0 Q3065.2 3957.9 3106.1 4032.8 Q3129.6 4008.3 3150.7 4044.8 Q3184.2 4028.9 3193.2 4062.7 Q3224.9 4055.6 3230.7 4089.3 Q3267.7 4091.4 3250.0 4130.0Z" fill="#a9aaad" fill-opacity="0.6" stroke="#85868a" stroke-width="3.5" stroke-opacity="0.9" stroke-linejoin="round"/>
<path d="M362.8 3670.5 Q390.2 3598.2 438.4 3647.6 Q466.6 3621.2 479.5 3652.7 Q536.7 3625.8 550.8 3697.8 Q589.0 3681.7 588.0 3723.7 Q639.9 3722.9 649.4 3776.5 Q679.8 3784.1 665.8 3817.9 Q704.7 3820.7 683.3 3860.0 Q722.5 3873.3 695.7 3903.9 Q705.3 3921.9 685.9 3932.8 Q716.9 3925.0 719.7 3963.6 Q752.5 3982.4 725.9 4006.0 Q761.0 4033.5 725.6 4051.7 Q739.4 4090.4 705.7 4089.7 Q686.6 4127.5 660.7 4096.8 Q659.9 4127.7 630.1 4120.6 Q632.9 4158.0 602.5 4148.9 Q578.5 4184.3 557.1 4153.4 Q536.2 4173.9 511.5 4155.3 Q464.0 4197.1 420.2 4156.4 Q371.3 4212.5 328.9 4153.9 Q306.4 4185.0 283.5 4149.1 Q248.5 4161.9 246.9 4126.1 Q198.8 4070.1 242.1 4035.4 Q214.2 4034.7 211.2 4006.3 Q182.7 4006.3 188.1 3979.6 Q165.3 3947.3 203.5 3939.9 Q164.6 3938.9 181.4 3900.4 Q164.7 3884.5 187.1 3868.5 Q161.2 3814.5 222.1 3803.1 Q198.5 3776.1 237.6 3761.1 Q215.7 3737.1 237.8 3723.6 Q251.3 3695.0 278.5 3703.0 Q287.1 3664.1 318.7 3681.5 Q334.0 3648.7 362.8 3670.5Z" fill="#a9aaad" fill-opacity="0.6" stroke="#85868a" stroke-width="3.5" stroke-opacity="0.9" stroke-linejoin="round"/>
<path d="M714.0 3427.0 Q732.5 3416.5 747.1 3438.2 Q766.7 3365.7 822.2 3401.0 Q853.0 3382.0 863.5 3417.9 Q883.0 3401.7 908.4 3426.7 Q942.2 3410.1 949.1 3446.7 Q977.5 3447.0 971.4 3480.0 Q992.5 3461.7 1016.4 3486.4 Q1070.1 3518.0 1044.0 3570.3 Q1073.8 3585.8 1057.1 3613.8 Q1090.8 3622.5 1077.8 3653.9 Q1119.9 3688.4 1078.8 3714.3 Q1131.6 3758.4 1099.0 3798.5 Q1100.9 3839.1 1066.8 3827.4 Q1042.4 3893.3 994.3 3864.6 Q1002.5 3899.5 963.0 3894.6 Q923.7 3960.0 879.9 3911.0 Q835.7 3965.4 804.5 3914.6 Q777.9 3977.1 726.5 3941.5 Q674.1 3964.6 648.6 3920.0 Q596.5 3907.9 604.9 3862.2 Q568.7 3879.3 566.5 3837.4 Q546.3 3837.9 543.5 3810.6 Q528.1 3799.1 545.2 3784.1 Q506.0 3790.6 511.6 3753.1 Q520.1 3722.7 546.2 3735.5 Q520.3 3721.4 533.4 3694.2 Q503.4 3687.2 506.2 3657.5 Q486.4 3630.9 522.9 3620.1 Q507.1 3583.8 539.1 3580.7 Q538.9 3550.2 574.7 3553.0 Q543.7 3501.6 587.1 3477.8 Q601.3 3447.4 627.6 3456.9 Q643.7 3425.4 670.2 3440.3 Q686.9 3399.9 714.0 3427.0Z" fill="#a9aaad" fill-opacity="0.6" stroke="#85868a" stroke-width="3.5" stroke-opacity="0.9" stroke-linejoin="round"/>
<path d="M1452.0 3421.0 Q1400.0 3392.2 1368.5 3452.4 Q1336.7 3429.3 1327.4 3473.3 Q1272.6 3479.3 1295.9 3520.7 Q1261.5 3511.3 1254.0 3539.6 Q1229.6 3561.2 1249.0 3583.9 Q1206.0 3614.3 1236.9 3664.8 Q1203.3 3662.5 1207.3 3698.1 Q1180.0 3719.9 1208.2 3736.9 Q1179.0 3743.5 1181.3 3772.2 Q1156.6 3782.4 1166.9 3813.9 Q1145.4 3859.0 1197.7 3876.6 Q1190.0 3912.8 1219.6 3911.7 Q1238.4 3976.1 1292.1 3938.0 Q1321.7 3958.1 1330.7 3918.5 Q1415.8 3927.9 1400.7 3859.2 Q1439.2 3876.4 1439.8 3834.4 Q1512.2 3838.5 1498.5 3763.2 Q1577.2 3747.5 1554.1 3689.3 Q1589.2 3685.0 1587.0 3656.9 Q1616.0 3672.3 1630.8 3644.1 Q1648.1 3672.4 1677.1 3643.3 Q1698.6 3667.0 1722.4 3634.2 Q1761.6 3657.6 1766.0 3618.9 Q1795.1 3600.7 1773.5 3579.5 Q1796.3 3509.8 1713.4 3509.7 Q1689.3 3456.1 1628.4 3475.5 Q1597.0 3412.9 1538.9 3452.5 Q1525.7 3414.0 1496.0 3435.0 Q1489.3 3402.7 1452.0 3421.0Z" fill="#a9aaad" fill-opacity="0.6" stroke="#85868a" stroke-width="3.5" stroke-opacity="0.9" stroke-linejoin="round"/>
<path d="M1650.0 3200.0 Q1670.2 3166.0 1694.8 3191.1 Q1713.5 3161.8 1740.4 3191.5 Q1768.5 3168.2 1783.8 3205.6 Q1842.2 3195.2 1844.4 3267.1 Q1889.9 3282.0 1879.8 3333.4 Q1899.8 3353.3 1882.0 3378.1 Q1925.9 3385.4 1906.4 3416.7 Q1935.1 3427.3 1916.8 3459.9 Q1933.5 3484.7 1899.8 3502.1 Q1882.9 3563.5 1825.8 3547.8 Q1795.1 3595.4 1749.1 3543.0 Q1743.8 3577.5 1709.5 3565.9 Q1708.8 3597.2 1671.3 3591.0 Q1664.8 3619.8 1630.9 3607.0 Q1595.9 3623.2 1590.5 3587.5 Q1543.8 3604.7 1538.7 3553.0 Q1526.7 3589.5 1496.7 3562.6 Q1443.9 3549.6 1457.3 3492.4 Q1421.3 3477.9 1452.5 3446.9 Q1400.3 3388.6 1461.1 3364.0 Q1429.7 3297.9 1503.6 3292.0 Q1492.6 3255.2 1524.3 3251.5 Q1552.0 3175.3 1608.4 3218.8 Q1621.5 3188.7 1650.0 3200.0Z" fill="#a9aaad" fill-opacity="0.6" stroke="#85868a" stroke-width="3.5" stroke-opacity="0.9" stroke-linejoin="round"/>
<path d="M1449.0 3713.0 Q1462.6 3678.9 1491.5 3695.4 Q1513.4 3649.1 1567.6 3678.9 Q1586.3 3649.3 1608.1 3675.2 Q1657.6 3635.1 1690.3 3707.7 Q1708.0 3685.5 1734.9 3709.2 Q1770.8 3696.1 1777.6 3726.1 Q1821.2 3723.8 1806.7 3759.7 Q1833.6 3781.8 1809.8 3805.5 Q1887.3 3814.0 1847.8 3886.7 Q1884.4 3887.7 1879.4 3920.0 Q1913.0 3919.9 1910.3 3953.8 Q1954.4 4010.5 1903.0 4042.0 Q1951.6 4075.0 1899.8 4124.1 Q1899.2 4145.4 1880.1 4147.8 Q1857.0 4171.6 1834.3 4152.6 Q1812.5 4177.1 1788.4 4155.7 Q1740.7 4208.2 1696.5 4160.3 Q1675.5 4182.6 1650.5 4162.0 Q1612.3 4223.1 1558.5 4163.8 Q1498.4 4234.8 1466.4 4163.1 Q1404.3 4230.1 1374.6 4157.5 Q1345.1 4187.8 1329.3 4149.7 Q1293.5 4164.0 1292.7 4123.9 Q1270.6 4097.6 1289.0 4079.4 Q1262.6 4049.7 1303.7 4035.8 Q1258.8 3993.6 1313.1 3947.8 Q1273.0 3899.9 1339.5 3872.9 Q1326.5 3842.7 1365.8 3841.3 Q1337.3 3818.9 1359.7 3797.1 Q1360.8 3736.9 1431.1 3752.0 Q1424.2 3722.7 1449.0 3713.0Z" fill="#a9aaad" fill-opacity="0.6" stroke="#85868a" stroke-width="3.5" stroke-opacity="0.9" stroke-linejoin="round"/>
<path d="M1283.0 4150.0 Q1257.7 4178.2 1238.9 4137.3 Q1222.0 4083.0 1283.0 4069.6 Q1260.3 4037.3 1304.8 4029.1 Q1303.2 3988.2 1335.8 3995.3 Q1396.6 3942.1 1425.6 4002.1 Q1458.8 3994.0 1463.1 4029.1 Q1508.7 3982.3 1553.6 4036.1 Q1580.2 3981.1 1645.2 4022.4 Q1698.3 3951.1 1737.6 4022.9 Q1765.1 3995.6 1783.5 4029.0 Q1806.8 4010.3 1829.0 4037.8 Q1865.0 4010.7 1873.7 4050.0 Q1943.5 4020.6 1959.1 4085.7 Q1990.1 4061.8 2000.3 4106.7 Q2028.7 4110.6 2021.7 4140.0 Q1983.4 4196.9 1931.0 4155.0 Q1897.3 4205.1 1838.5 4158.8 Q1817.2 4193.2 1792.2 4159.9 Q1774.6 4192.9 1745.9 4160.5 Q1723.1 4185.4 1699.6 4161.0 Q1677.7 4181.2 1653.2 4161.2 Q1631.5 4183.6 1606.9 4161.1 Q1552.4 4209.3 1514.3 4160.2 Q1494.1 4187.8 1468.0 4159.4 Q1444.4 4188.1 1421.7 4158.2 Q1393.8 4180.4 1375.4 4156.5 Q1357.5 4184.7 1329.1 4154.0 Q1305.0 4180.5 1283.0 4150.0Z" fill="#a9aaad" fill-opacity="0.6" stroke="#85868a" stroke-width="3.5" stroke-opacity="0.9" stroke-linejoin="round"/><rect x="64" y="3055" width="30" height="31" fill="#fff" stroke="#1a1a1a" stroke-width="8"/>
<path d="M97.5 3057.6 L212.6 3071.8 L277.8 3435" fill="none" stroke="#1a1a1a" stroke-width="8" stroke-linejoin="miter"/>
<rect x="662" y="2380" width="24" height="24" fill="#fff" stroke="#1a1a1a" stroke-width="6"/>
<path d="M687 2382.6 L771 2393 L804 2671" fill="none" stroke="#1a1a1a" stroke-width="6" stroke-linejoin="miter"/>
<rect x="2838" y="2348" width="22" height="21" fill="#fff" stroke="#1a1a1a" stroke-width="6"/>
<path d="M2837 2348.6 L2746 2360 L2726 2570" fill="none" stroke="#1a1a1a" stroke-width="6" stroke-linejoin="miter"/>
<rect x="3137" y="3075" width="29" height="28" fill="#fff" stroke="#1a1a1a" stroke-width="7"/>
<path d="M3134.4 3077.4 L3070 3083.5 L3070 3083.5" fill="none" stroke="#1a1a1a" stroke-width="7" stroke-linejoin="miter"/>
<path d="M895.7 2731.6L877.5 2573L472 3223L512 3392" fill="none" stroke="#1a1a1a" stroke-width="11" stroke-linejoin="miter"/>
<path d="M823 2665q4 50 -18 110M826 2665q10 50 -2 120M829 2665q16 40 30 78M820 2665q-6 60 -40 130" fill="none" stroke="#1a1a1a" stroke-width="2.2" stroke-dasharray="9 6"/>
<path d="M640 2960q4 50 -18 110M643 2960q10 50 -2 120M646 2960q16 40 30 78M637 2960q-6 60 -40 130" fill="none" stroke="#1a1a1a" stroke-width="2.2" stroke-dasharray="9 6"/>
<path d="M548 3110q4 50 -18 110M551 3110q10 50 -2 120M554 3110q16 40 30 78M545 3110q-6 60 -40 130" fill="none" stroke="#1a1a1a" stroke-width="2.2" stroke-dasharray="9 6"/>
<path d="M803.3 2861.8L806.1 2903.2L810.2 2908.7L813.0 2906.0L813.0 2861.8ZM813.0 2861.8L815.8 2912.9L824.0 2917.0L826.8 2912.9L822.7 2903.2L824.0 2861.8Z" fill="#fff" stroke="#1a1a1a" stroke-width="2.6" stroke-linejoin="round"/>
<path d="M789.5 2875.6L788.2 2897.7L793.7 2903.2L802.0 2900.4L799.2 2875.6ZM830.9 2875.6L835.1 2899.1L829.6 2900.4L826.8 2875.6Z" fill="#fff" stroke="#1a1a1a" stroke-width="2.6" stroke-linejoin="round"/>
<path d="M807.5 2801.1L796.4 2806.6L790.9 2848.0L793.7 2867.3L799.2 2868.7L802.0 2874.2L813.0 2878.4L826.8 2874.2L828.2 2867.3L833.7 2859.0L829.6 2806.6L819.9 2801.1Z" fill="#fff" stroke="#1a1a1a" stroke-width="2.6" stroke-linejoin="round"/>
<ellipse cx="813.0" cy="2791.4" rx="7.6" ry="9.7" fill="#fff" stroke="#1a1a1a" stroke-width="2.6"/>
<path d="M1578.7 2783.0L1578.1 2825.0L1581.9 2830.6L1584.9 2827.8L1588.5 2783.0ZM1588.5 2783.0L1587.1 2834.8L1595.2 2839.0L1598.3 2834.8L1594.9 2825.0L1599.7 2783.0Z" fill="#fff" stroke="#1a1a1a" stroke-width="2.6" stroke-linejoin="round"/>
<path d="M1587.8 2721.4L1576.2 2727.0L1567.2 2769.0L1568.4 2788.6L1573.9 2790.0L1576.3 2795.6L1587.1 2799.8L1601.5 2795.6L1603.4 2788.6L1609.7 2780.2L1609.8 2727.0L1600.4 2721.4Z" fill="#fff" stroke="#1a1a1a" stroke-width="2.6" stroke-linejoin="round"/>
<ellipse cx="1594.2" cy="2711.6" rx="7.7" ry="9.8" fill="#fff" stroke="#1a1a1a" stroke-width="2.6"/>
<path d="M1368.2 3282.2L1370.4 3315.8L1373.8 3320.3L1376.0 3318.0L1376.0 3282.2ZM1376.0 3282.2L1378.2 3323.6L1385.0 3327.0L1387.2 3323.6L1383.8 3315.8L1385.0 3282.2Z" fill="#fff" stroke="#1a1a1a" stroke-width="2.6" stroke-linejoin="round"/>
<path d="M1371.5 3232.9L1362.6 3237.4L1358.1 3271.0L1360.3 3286.7L1364.8 3287.8L1367.0 3292.3L1376.0 3295.6L1387.2 3292.3L1388.3 3286.7L1392.8 3280.0L1389.4 3237.4L1381.6 3232.9Z" fill="#fff" stroke="#1a1a1a" stroke-width="2.6" stroke-linejoin="round"/>
<ellipse cx="1376.0" cy="3225.1" rx="6.2" ry="7.8" fill="#fff" stroke="#1a1a1a" stroke-width="2.6"/>
<path d="M1033.4 3548.0L1037.0 3602.0L1042.4 3609.2L1046.0 3605.6L1046.0 3548.0ZM1046.0 3548.0L1049.6 3614.6L1060.4 3620.0L1064.0 3614.6L1058.6 3602.0L1060.4 3548.0Z" fill="#fff" stroke="#1a1a1a" stroke-width="2.6" stroke-linejoin="round"/>
<path d="M1038.8 3468.8L1024.4 3476.0L1017.2 3530.0L1020.8 3555.2L1028.0 3557.0L1031.6 3564.2L1046.0 3569.6L1064.0 3564.2L1065.8 3555.2L1073.0 3544.4L1067.6 3476.0L1055.0 3468.8Z" fill="#fff" stroke="#1a1a1a" stroke-width="2.6" stroke-linejoin="round"/>
<ellipse cx="1046.0" cy="3456.2" rx="9.9" ry="12.6" fill="#fff" stroke="#1a1a1a" stroke-width="2.6"/>
<path d="M1113.9 2484.8L1120.3 2523.2L1124.7 2528.3L1127.0 2525.8L1122.9 2484.8ZM1122.9 2484.8L1130.2 2532.2L1138.2 2536.0L1140.4 2532.2L1135.7 2523.2L1133.1 2484.8Z" fill="#fff" stroke="#1a1a1a" stroke-width="2.6" stroke-linejoin="round"/>
<path d="M1112.1 2428.5L1102.4 2433.6L1101.1 2472.0L1105.5 2489.9L1110.7 2491.2L1113.8 2496.3L1124.4 2500.2L1136.8 2496.3L1137.5 2489.9L1141.8 2482.2L1133.1 2433.6L1123.6 2428.5Z" fill="#fff" stroke="#1a1a1a" stroke-width="2.6" stroke-linejoin="round"/>
<ellipse cx="1116.4" cy="2419.5" rx="7.0" ry="9.0" fill="#fff" stroke="#1a1a1a" stroke-width="2.6"/>
<circle cx="1192" cy="2490" r="26" fill="#fff" stroke="#1a1a1a" stroke-width="3"/><path d="M1150 2495L1200 2500L1195 2525L1158 2522Z" fill="#fff" stroke="#1a1a1a" stroke-width="3"/><circle cx="1168" cy="2540" r="7" fill="none" stroke="#1a1a1a" stroke-width="4"/><circle cx="1196" cy="2538" r="7" fill="none" stroke="#1a1a1a" stroke-width="4"/>
<ellipse cx="3127" cy="2842" rx="10" ry="24" fill="none" stroke="#1a1a1a" stroke-width="4"/><ellipse cx="3165" cy="2842" rx="10" ry="24" fill="none" stroke="#1a1a1a" stroke-width="4"/><path d="M3142 2790L3178 2786L3172 2828L3146 2830Z" fill="#fff" stroke="#1a1a1a" stroke-width="3"/><circle cx="3166" cy="2763" r="10" fill="#fff" stroke="#1a1a1a" stroke-width="3"/>
<path d="M1166 3988h10v136h-10z" fill="#fff" stroke="#1a1a1a" stroke-width="3"/>
<path d="M1142 4018L1152 4012L1190 4012L1200 4018L1204 4040L1196 4046L1146 4046L1138 4040Z" fill="#fff" stroke="#1a1a1a" stroke-width="3" stroke-linejoin="round"/>
<path d="M1146 4046Q1171 4030 1196 4046L1190 4078Q1171 4092 1152 4078Z" fill="#fff" stroke="#1a1a1a" stroke-width="3" stroke-linejoin="round"/>
<ellipse cx="1171" cy="4044" rx="12" ry="15" fill="#fff" stroke="#1a1a1a" stroke-width="3"/>
<path d="M2390 2630L2430 2600L2460 2608L2470 2590L2500 2612L2492 2640L2462 2662L2440 2640L2400 2650Z" fill="#fff" stroke="#1a1a1a" stroke-width="3" stroke-linejoin="round"/><circle cx="2452" cy="2603" r="8" fill="#fff" stroke="#1a1a1a" stroke-width="3"/><circle cx="2480" cy="2610" r="8" fill="#fff" stroke="#1a1a1a" stroke-width="3"/>
</g>
<g id="leaders">
<rect x="899" y="832" width="8" height="1958" fill="#a7e5e0"/>
<circle cx="903" cy="2790" r="33" fill="#a7e5e0"/>
<rect x="1081" y="376" width="8" height="1835" fill="#032f3f"/>
<circle cx="1085" cy="2211" r="33" fill="#032f3f"/>
<rect x="1181" y="948" width="8" height="2035" fill="#a7e5e0"/>
<circle cx="1185" cy="2983" r="33" fill="#a7e5e0"/>
<rect x="2468" y="669" width="8" height="1864" fill="#032f3f"/>
<circle cx="2472" cy="2533" r="33" fill="#032f3f"/>
<rect x="2718" y="1270" width="8" height="1862" fill="#032f3f"/>
<circle cx="2722" cy="3132" r="33" fill="#032f3f"/>
<rect x="736" y="1579" width="8" height="1698" fill="#00a19c"/>
<circle cx="740" cy="3277" r="33" fill="#00a19c"/>
<rect x="1837" y="1588" width="8" height="1580" fill="#8fa7af"/>
<circle cx="1841" cy="3168" r="33" fill="#8fa7af"/>
<rect x="1944" y="1654" width="8" height="887" fill="#032f3f"/>
<circle cx="1948" cy="2541" r="33" fill="#032f3f"/>
</g>
<g id="labels">
<rect x="204" y="426" width="703" height="408" fill="#a7e5e0"/>
<text x="336" y="495" font-size="70" font-weight="bold" fill="#231f20" textLength="560" lengthAdjust="spacingAndGlyphs" xml:space="preserve"><tspan font-weight="bold">WATER NOZZLES</tspan></text>
<text x="294" y="570" font-size="70" font-weight="bold" fill="#231f20" textLength="602" lengthAdjust="spacingAndGlyphs" xml:space="preserve"><tspan font-weight="bold">CLOSE TO PEOPLE</tspan></text>
<text x="284" y="630" font-size="47" fill="#231f20" textLength="612" lengthAdjust="spacingAndGlyphs" xml:space="preserve"><tspan font-weight="bold">summer.</tspan> temperates local</text>
<text x="324" y="689" font-size="47" fill="#231f20" textLength="572" lengthAdjust="spacingAndGlyphs" xml:space="preserve">air temperature through</text>
<text x="320" y="748" font-size="47" fill="#231f20" textLength="576" lengthAdjust="spacingAndGlyphs" xml:space="preserve">evaporation, direct body</text>
<text x="733" y="806" font-size="47" fill="#231f20" textLength="163" lengthAdjust="spacingAndGlyphs" xml:space="preserve">cooling</text>
<rect x="205.0" y="869.7" width="37.4" height="8.6" rx="2" fill="#a7e5e0"/><rect x="219.4" y="854.7" width="8.6" height="38.6" rx="2" fill="#a7e5e0"/>
<rect x="247.5" y="869.7" width="37.4" height="8.6" rx="2" fill="#a7e5e0"/><rect x="261.9" y="854.7" width="8.6" height="38.6" rx="2" fill="#a7e5e0"/>
<rect x="1081" y="18" width="867" height="360" fill="#032f3f"/>
<text x="1092" y="86" font-size="70" font-weight="bold" fill="#ffffff" textLength="737" lengthAdjust="spacingAndGlyphs" xml:space="preserve"><tspan font-weight="bold">OPEN CANOPIES AND</tspan></text>
<text x="1092" y="161" font-size="70" font-weight="bold" fill="#ffffff" textLength="831" lengthAdjust="spacingAndGlyphs" xml:space="preserve"><tspan font-weight="bold">VARIED CROWN SHAPES</tspan></text>
<text x="1092" y="221" font-size="47" fill="#ffffff" textLength="737" lengthAdjust="spacingAndGlyphs" xml:space="preserve"><tspan font-weight="bold">summer.</tspan> cooling by wind, long-</text>
<text x="1092" y="279" font-size="47" fill="#ffffff" textLength="596" lengthAdjust="spacingAndGlyphs" xml:space="preserve">wave radiation allowance</text>
<text x="1092" y="338" font-size="47" fill="#ffffff" textLength="553" lengthAdjust="spacingAndGlyphs" xml:space="preserve"><tspan font-weight="bold">winter.</tspan> wind protection</text>
<rect x="1826.6" y="412.7" width="37.4" height="8.6" rx="2" fill="#032f3f"/><rect x="1841.0" y="397.7" width="8.6" height="38.6" rx="2" fill="#032f3f"/>
<rect x="1869.1" y="412.7" width="37.4" height="8.6" rx="2" fill="#032f3f"/><rect x="1883.5" y="397.7" width="8.6" height="38.6" rx="2" fill="#032f3f"/>
<rect x="1911.6" y="412.7" width="37.4" height="8.6" rx="2" fill="#032f3f"/><rect x="1926.0" y="397.7" width="8.6" height="38.6" rx="2" fill="#032f3f"/>
<rect x="1181" y="609" width="801" height="341" fill="#a7e5e0"/>
<text x="1193" y="677" font-size="70" font-weight="bold" fill="#231f20" textLength="663" lengthAdjust="spacingAndGlyphs" xml:space="preserve"><tspan font-weight="bold">WATER FOUNTAINS</tspan></text>
<text x="1193" y="752" font-size="70" font-weight="bold" fill="#231f20" textLength="599" lengthAdjust="spacingAndGlyphs" xml:space="preserve"><tspan font-weight="bold">CLOSE TO PEOPLE</tspan></text>
<text x="1191" y="811" font-size="47" fill="#231f20" textLength="614" lengthAdjust="spacingAndGlyphs" xml:space="preserve"><tspan font-weight="bold">summer.</tspan> temperates local</text>
<text x="1191" y="869" font-size="47" fill="#231f20" textLength="571" lengthAdjust="spacingAndGlyphs" xml:space="preserve">air temperature through</text>
<text x="1191" y="928" font-size="47" fill="#231f20" textLength="760" lengthAdjust="spacingAndGlyphs" xml:space="preserve">evaporation, direct body cooling</text>
<rect x="1899.1" y="986.7" width="37.4" height="8.6" rx="2" fill="#a7e5e0"/><rect x="1913.5" y="971.7" width="8.6" height="38.6" rx="2" fill="#a7e5e0"/>
<rect x="1941.6" y="986.7" width="37.4" height="8.6" rx="2" fill="#a7e5e0"/><rect x="1956.0" y="971.7" width="8.6" height="38.6" rx="2" fill="#a7e5e0"/>
<rect x="2468" y="319" width="708" height="352" fill="#032f3f"/>
<text x="2483" y="389" font-size="70" font-weight="bold" fill="#ffffff" textLength="652" lengthAdjust="spacingAndGlyphs" xml:space="preserve"><tspan font-weight="bold">TREES IN SOJOURN</tspan></text>
<text x="2483" y="464" font-size="70" font-weight="bold" fill="#ffffff" textLength="387" lengthAdjust="spacingAndGlyphs" xml:space="preserve"><tspan font-weight="bold">LOCATIONS</tspan></text>
<text x="2482" y="522" font-size="47" fill="#ffffff" textLength="665" lengthAdjust="spacingAndGlyphs" xml:space="preserve"><tspan font-weight="bold">summer.</tspan> shade, evaporative</text>
<text x="2482" y="581" font-size="47" fill="#ffffff" textLength="168" lengthAdjust="spacingAndGlyphs" xml:space="preserve">cooling</text>
<text x="2482" y="640" font-size="47" fill="#ffffff" textLength="556" lengthAdjust="spacingAndGlyphs" xml:space="preserve"><tspan font-weight="bold">winter.</tspan> wind protection</text>
<rect x="3051.6" y="705.7" width="37.4" height="8.6" rx="2" fill="#032f3f"/><rect x="3066.0" y="690.7" width="8.6" height="38.6" rx="2" fill="#032f3f"/>
<rect x="3094.1" y="705.7" width="37.4" height="8.6" rx="2" fill="#032f3f"/><rect x="3108.5" y="690.7" width="8.6" height="38.6" rx="2" fill="#032f3f"/>
<rect x="3136.6" y="705.7" width="37.4" height="8.6" rx="2" fill="#032f3f"/><rect x="3151.0" y="690.7" width="8.6" height="38.6" rx="2" fill="#032f3f"/>
<rect x="2718" y="902" width="686" height="370" fill="#032f3f"/>
<text x="2729" y="972" font-size="70" font-weight="bold" fill="#ffffff" textLength="623" lengthAdjust="spacingAndGlyphs" xml:space="preserve"><tspan font-weight="bold">TREES ALONG THE</tspan></text>
<text x="2729" y="1047" font-size="70" font-weight="bold" fill="#ffffff" textLength="433" lengthAdjust="spacingAndGlyphs" xml:space="preserve"><tspan font-weight="bold">WATERBODY</tspan></text>
<text x="2728" y="1106" font-size="47" fill="#ffffff" textLength="666" lengthAdjust="spacingAndGlyphs" xml:space="preserve"><tspan font-weight="bold">summer.</tspan> shade, evaporative</text>
<text x="2728" y="1165" font-size="47" fill="#ffffff" textLength="168" lengthAdjust="spacingAndGlyphs" xml:space="preserve">cooling</text>
<text x="2728" y="1223" font-size="47" fill="#ffffff" textLength="556" lengthAdjust="spacingAndGlyphs" xml:space="preserve"><tspan font-weight="bold">winter.</tspan> wind protection</text>
<rect x="3279.6" y="1307.7" width="37.4" height="8.6" rx="2" fill="#032f3f"/><rect x="3294.0" y="1292.7" width="8.6" height="38.6" rx="2" fill="#032f3f"/>
<rect x="3322.1" y="1307.7" width="37.4" height="8.6" rx="2" fill="#032f3f"/><rect x="3336.5" y="1292.7" width="8.6" height="38.6" rx="2" fill="#032f3f"/>
<rect x="3364.6" y="1307.7" width="37.4" height="8.6" rx="2" fill="#032f3f"/><rect x="3379.0" y="1292.7" width="8.6" height="38.6" rx="2" fill="#032f3f"/>
<rect x="204" y="1081" width="540" height="500" fill="#00a19c"/>
<text x="321" y="1151" font-size="70" font-weight="bold" fill="#231f20" textLength="412" lengthAdjust="spacingAndGlyphs" xml:space="preserve"><tspan font-weight="bold">PERMEABLE</tspan></text>
<text x="420" y="1226" font-size="70" font-weight="bold" fill="#231f20" textLength="313" lengthAdjust="spacingAndGlyphs" xml:space="preserve"><tspan font-weight="bold">GROUND</tspan></text>
<text x="391" y="1302" font-size="70" font-weight="bold" fill="#231f20" textLength="342" lengthAdjust="spacingAndGlyphs" xml:space="preserve"><tspan font-weight="bold">SURFACES</tspan></text>
<text x="235" y="1359" font-size="47" fill="#231f20" textLength="498" lengthAdjust="spacingAndGlyphs" xml:space="preserve"><tspan font-weight="bold">summer.</tspan> evaporative</text>
<text x="567" y="1418" font-size="47" fill="#231f20" textLength="166" lengthAdjust="spacingAndGlyphs" xml:space="preserve">cooling</text>
<text x="303" y="1476" font-size="47" fill="#231f20" textLength="430" lengthAdjust="spacingAndGlyphs" xml:space="preserve"><tspan font-weight="bold">year-round.</tspan> water</text>
<text x="491" y="1535" font-size="47" fill="#231f20" textLength="242" lengthAdjust="spacingAndGlyphs" xml:space="preserve">infiltration</text>
<rect x="206.0" y="1616.7" width="37.4" height="8.6" rx="2" fill="#00a19c"/><rect x="220.4" y="1601.7" width="8.6" height="38.6" rx="2" fill="#00a19c"/>
<rect x="248.5" y="1616.7" width="37.4" height="8.6" rx="2" fill="#00a19c"/><rect x="262.9" y="1601.7" width="8.6" height="38.6" rx="2" fill="#00a19c"/>
<rect x="291.0" y="1616.7" width="37.4" height="8.6" rx="2" fill="#00a19c"/><rect x="305.4" y="1601.7" width="8.6" height="38.6" rx="2" fill="#00a19c"/>
<rect x="1231" y="1181" width="614" height="409" fill="#8fa7af"/>
<text x="1348" y="1251" font-size="70" font-weight="bold" fill="#231f20" textLength="485" lengthAdjust="spacingAndGlyphs" xml:space="preserve"><tspan font-weight="bold">ACCESSIBILITY</tspan></text>
<text x="1480" y="1326" font-size="70" font-weight="bold" fill="#231f20" textLength="353" lengthAdjust="spacingAndGlyphs" xml:space="preserve"><tspan font-weight="bold">TO WATER</tspan></text>
<text x="1300" y="1384" font-size="47" fill="#231f20" textLength="533" lengthAdjust="spacingAndGlyphs" xml:space="preserve"><tspan font-weight="bold">summer.</tspan> psychological</text>
<text x="1641" y="1443" font-size="47" fill="#231f20" textLength="189" lengthAdjust="spacingAndGlyphs" xml:space="preserve">‘cooling’</text>
<text x="1250" y="1501" font-size="47" fill="#231f20" textLength="583" lengthAdjust="spacingAndGlyphs" xml:space="preserve"><tspan font-weight="bold">year-round.</tspan> physical and</text>
<text x="1509" y="1560" font-size="47" fill="#231f20" textLength="324" lengthAdjust="spacingAndGlyphs" xml:space="preserve">mental health</text>
<rect x="1233.0" y="1625.7" width="37.4" height="8.6" rx="2" fill="#8fa7af"/><rect x="1247.4" y="1610.7" width="8.6" height="38.6" rx="2" fill="#8fa7af"/>
<rect x="1944" y="1315" width="631" height="341" fill="#032f3f"/>
<text x="1954" y="1385" font-size="70" font-weight="bold" fill="#ffffff" textLength="495" lengthAdjust="spacingAndGlyphs" xml:space="preserve"><tspan font-weight="bold">SHADE WATER</tspan></text>
<text x="1953" y="1443" font-size="47" fill="#ffffff" textLength="531" lengthAdjust="spacingAndGlyphs" xml:space="preserve"><tspan font-weight="bold">summer.</tspan> although this</text>
<text x="1953" y="1502" font-size="47" fill="#ffffff" textLength="523" lengthAdjust="spacingAndGlyphs" xml:space="preserve">does not cool water, it</text>
<text x="1953" y="1560" font-size="47" fill="#ffffff" textLength="486" lengthAdjust="spacingAndGlyphs" xml:space="preserve">can help prevent the</text>
<text x="1953" y="1618" font-size="47" fill="#ffffff" textLength="544" lengthAdjust="spacingAndGlyphs" xml:space="preserve">blooming of pathogens</text>
</g>
</svg></body></html>
